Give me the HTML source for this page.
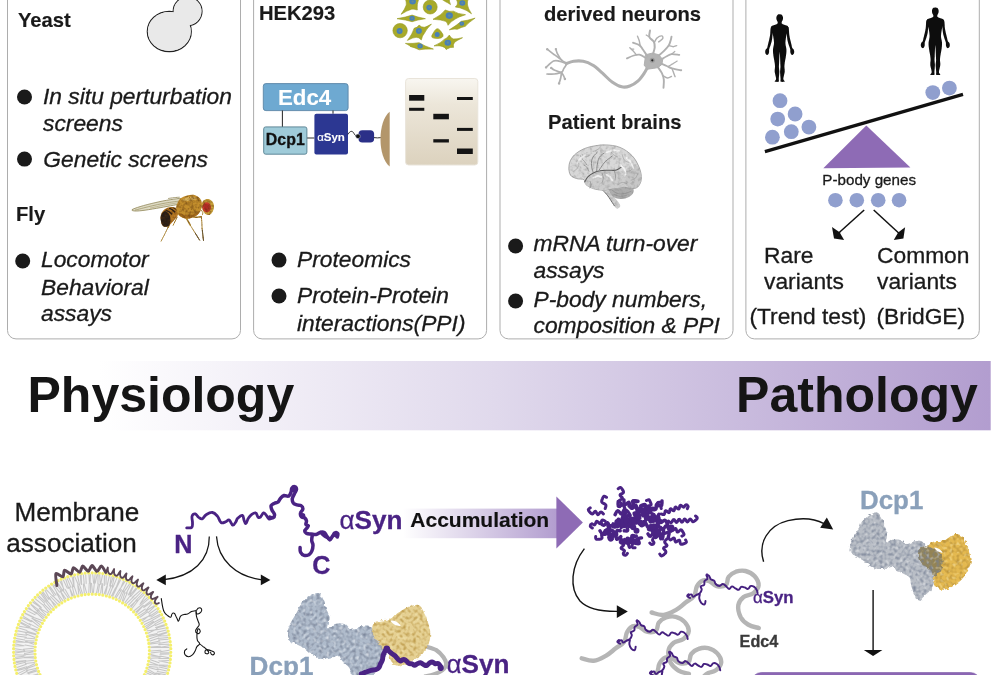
<!DOCTYPE html>
<html lang="en">
<head>
<meta charset="utf-8">
<title>Graphical abstract: P-body, alpha-synuclein, physiology to pathology</title>
<style>
html,body{margin:0;padding:0;background:#fff;}
body{width:996px;height:675px;overflow:hidden;position:relative;font-family:"Liberation Sans",Arial,Helvetica,sans-serif;}
svg{position:absolute;left:0;top:0;display:block;filter:blur(0.3px);}
text{font-family:"Liberation Sans",Arial,Helvetica,sans-serif;fill:#1a1a1a;stroke:#1a1a1a;stroke-width:0.3px;}
.b{font-weight:bold;}
.i{font-style:italic;}
.lab{font-size:20.2px;font-weight:bold;stroke-width:0.15px;}
.it{font-size:22.8px;font-style:italic;}
.rg{font-size:22.8px;}
.pur{fill:#4a2384;stroke:#4a2384;}
</style>
</head>
<body>
<svg width="996" height="675" viewBox="0 0 996 675">
<defs>
  <linearGradient id="gBanner" x1="0" y1="0" x2="1" y2="0">
    <stop offset="0" stop-color="#ffffff"/>
    <stop offset="0.1" stop-color="#ffffff"/>
    <stop offset="0.5" stop-color="#e0d9ec"/>
    <stop offset="1" stop-color="#b29dcf"/>
  </linearGradient>
  <linearGradient id="gAcc" x1="0" y1="0" x2="1" y2="0">
    <stop offset="0" stop-color="#ffffff"/>
    <stop offset="1" stop-color="#b29dcf"/>
  </linearGradient>
  <linearGradient id="gGel" x1="0" y1="0" x2="0" y2="1">
    <stop offset="0" stop-color="#f8f6f0"/>
    <stop offset="0.3" stop-color="#ece6d9"/>
    <stop offset="1" stop-color="#dcd2be"/>
  </linearGradient>
  <filter id="soft" x="-5%" y="-5%" width="110%" height="110%">
    <feGaussianBlur stdDeviation="0.45"/>
  </filter>
  <filter id="soft2" x="-5%" y="-5%" width="110%" height="110%">
    <feGaussianBlur stdDeviation="0.3"/>
  </filter>
  <filter id="flytex" x="-5%" y="-5%" width="110%" height="110%" color-interpolation-filters="sRGB">
    <feTurbulence type="fractalNoise" baseFrequency="0.35" numOctaves="2" seed="7" result="n"/>
    <feColorMatrix in="n" type="matrix" values="0 0 0 0 0.35  0 0 0 0 0.2  0 0 0 0 0.05  1.3 0 0 0 -0.5" result="dark"/>
    <feComposite in="dark" in2="SourceGraphic" operator="in" result="d2"/>
    <feMerge result="m"><feMergeNode in="SourceGraphic"/><feMergeNode in="d2"/></feMerge>
    <feGaussianBlur in="m" stdDeviation="0.45"/>
  </filter>
  <filter id="braintex" x="-5%" y="-5%" width="110%" height="110%" color-interpolation-filters="sRGB">
    <feTurbulence type="fractalNoise" baseFrequency="0.28" numOctaves="2" seed="3" result="n"/>
    <feColorMatrix in="n" type="matrix" values="0 0 0 0 0.5  0 0 0 0 0.5  0 0 0 0 0.5  1.1 0 0 0 -0.5" result="dark"/>
    <feComposite in="dark" in2="SourceGraphic" operator="in" result="d2"/>
    <feMerge result="m"><feMergeNode in="SourceGraphic"/><feMergeNode in="d2"/></feMerge>
    <feGaussianBlur in="m" stdDeviation="0.4"/>
  </filter>
  <filter id="blobtexB" x="-8%" y="-8%" width="116%" height="116%" color-interpolation-filters="sRGB">
    <feTurbulence type="fractalNoise" baseFrequency="0.3" numOctaves="1" seed="11" result="n"/>
    <feDisplacementMap in="SourceGraphic" in2="n" scale="4" xChannelSelector="R" yChannelSelector="G" result="disp"/>
    <feColorMatrix in="n" type="matrix" values="0 0 0 0 0.46  0 0 0 0 0.5  0 0 0 0 0.58  0 2.2 0 0 -0.95" result="dark"/>
    <feComposite in="dark" in2="disp" operator="in" result="d2"/>
    <feColorMatrix in="n" type="matrix" values="0 0 0 0 1  0 0 0 0 1  0 0 0 0 1  0 0 1.6 0 -0.85" result="light"/>
    <feComposite in="light" in2="disp" operator="in" result="l2"/>
    <feMerge result="m"><feMergeNode in="disp"/><feMergeNode in="d2"/><feMergeNode in="l2"/></feMerge>
    <feGaussianBlur in="m" stdDeviation="0.35"/>
  </filter>
  <filter id="blobtexY" x="-8%" y="-8%" width="116%" height="116%" color-interpolation-filters="sRGB">
    <feTurbulence type="fractalNoise" baseFrequency="0.3" numOctaves="1" seed="23" result="n"/>
    <feDisplacementMap in="SourceGraphic" in2="n" scale="4" xChannelSelector="R" yChannelSelector="G" result="disp"/>
    <feColorMatrix in="n" type="matrix" values="0 0 0 0 0.7  0 0 0 0 0.55  0 0 0 0 0.22  0 2.2 0 0 -0.95" result="dark"/>
    <feComposite in="dark" in2="disp" operator="in" result="d2"/>
    <feColorMatrix in="n" type="matrix" values="0 0 0 0 1  0 0 0 0 0.97  0 0 0 0 0.8  0 0 1.6 0 -0.85" result="light"/>
    <feComposite in="light" in2="disp" operator="in" result="l2"/>
    <feMerge result="m"><feMergeNode in="disp"/><feMergeNode in="d2"/><feMergeNode in="l2"/></feMerge>
    <feGaussianBlur in="m" stdDeviation="0.35"/>
  </filter>
</defs>
<g id="panels" fill="#fff" stroke="#adadad" stroke-width="1">
  <rect x="7.5" y="-20" width="233" height="358.9" rx="8.5" ry="8.5"/>
  <rect x="253.6" y="-20" width="233" height="358.9" rx="8.5" ry="8.5"/>
  <rect x="500" y="-20" width="233" height="358.9" rx="8.5" ry="8.5"/>
  <rect x="745.9" y="-20" width="233.4" height="358.9" rx="8.5" ry="8.5"/>
</g>
<g id="panel1">
  <text class="lab" x="18" y="27.2">Yeast</text>
  <g id="yeast">
    <circle cx="187.6" cy="11.3" r="14.4" fill="#e9e9e9" stroke="#222" stroke-width="1.2"/>
    <ellipse cx="169.3" cy="31.5" rx="22" ry="20.1" fill="#e9e9e9" stroke="#222" stroke-width="1.2"/>
    <circle cx="187.6" cy="11.3" r="13.9" fill="#e9e9e9"/>
    <ellipse cx="169.3" cy="31.5" rx="21.5" ry="19.6" fill="#e9e9e9"/>
  </g>
  <circle cx="24.5" cy="97" r="7.5" fill="#1a1a1a"/>
  <text class="it" x="43" y="103.7">In situ perturbation</text>
  <text class="it" x="43" y="131.3">screens</text>
  <circle cx="24.5" cy="159.1" r="7.5" fill="#1a1a1a"/>
  <text class="it" x="43.3" y="167.1">Genetic screens</text>
  <text class="lab" x="16" y="221">Fly</text>
  <g id="fly">
<g filter="url(#soft)">
<path d="M132.0 209.7C132.9 209.0 136.2 207.8 140.1 206.6C143.9 205.4 150.1 203.8 155.1 202.7C160.1 201.5 165.7 200.4 170.2 199.7C174.6 199.0 179.6 198.2 181.7 198.5C183.8 198.7 182.8 200.2 182.7 201.1C182.6 201.9 182.8 203.0 181.2 203.7C179.6 204.4 176.7 204.6 173.2 205.3C169.7 206.0 164.8 206.9 160.1 207.7C155.5 208.5 149.3 209.6 145.1 210.2C140.9 210.8 137.2 211.1 135.0 211.0C132.9 210.9 131.2 210.4 132.0 209.7Z" fill="#dedac4" stroke="#8f8556" stroke-width="0.8"/>
<path d="M135.0 210.1C137.6 209.5 145.1 207.5 150.1 206.3C155.1 205.1 160.0 204.0 165.2 203.1C170.3 202.2 178.5 201.2 181.2 200.9" fill="none" stroke="#9a9062" stroke-width="0.7"/>
<path d="M150.1 208.1C152.6 207.6 160.3 205.8 165.2 204.9C170.0 204.0 176.9 203.0 179.2 202.7" fill="none" stroke="#a79e72" stroke-width="0.6"/>
<path d="M168.2 198.5C169.2 198.3 172.3 197.9 174.2 197.7C176.1 197.4 178.8 197.3 179.7 197.2" fill="none" stroke="#9a9062" stroke-width="0.9"/>
</g>
<g filter="url(#flytex)">
<g stroke="#b08830" fill="none" stroke-linecap="round" stroke-linejoin="round">
<path stroke-width="1.5" d="M172.2 217.6C171.9 218.4 170.9 220.6 170.2 222.1C169.5 223.7 168.5 226.3 168.2 227.2"/>
<path stroke-width="0.9" d="M168.2 227.2C167.6 228.3 165.8 231.9 164.7 234.2C163.5 236.5 161.7 240.1 161.1 241.2"/>
<path stroke-width="1.0" d="M177.2 217.1C176.9 217.8 175.9 219.8 175.2 221.1C174.5 222.5 173.5 224.5 173.2 225.2"/>
<path stroke-width="1.5" d="M186.0 217.9C186.4 218.6 187.6 220.4 188.3 221.6C189.0 222.9 189.9 224.6 190.3 225.2"/>
<path stroke-width="0.9" d="M190.3 225.2C191.1 226.5 193.7 230.7 195.3 233.2C196.8 235.7 198.8 238.9 199.5 240.0"/>
<path stroke-width="1.5" d="M193.3 216.9C193.9 217.0 196.0 217.4 197.3 217.3C198.6 217.3 200.6 216.8 201.3 216.7"/>
<path stroke-width="1.0" d="M201.3 216.7C201.4 217.8 201.8 221.2 201.9 223.2C202.0 225.1 202.1 227.3 202.1 228.2"/>
<path stroke-width="0.9" d="M202.1 228.2C202.2 229.3 202.6 232.7 202.8 234.7C203.0 236.7 203.4 239.5 203.5 240.4"/>
</g>
<g stroke="#5e5034" fill="none" stroke-linecap="round"><path stroke-width="0.9" d="M195.3 233.2C196.0 234.3 198.8 238.9 199.5 240.0"/><path stroke-width="0.9" d="M202.3 230.2C202.5 231.9 203.3 238.7 203.5 240.4"/></g>
<path d="M160.6 218.1C160.6 216.3 160.9 214.6 161.6 213.1C162.4 211.6 163.7 210.1 165.2 209.1C166.6 208.1 168.5 207.3 170.2 207.1C171.9 206.8 173.8 206.9 175.2 207.6C176.6 208.3 178.0 209.7 178.4 211.1C178.8 212.5 178.2 214.5 177.4 216.1C176.6 217.8 174.7 219.6 173.4 221.1C172.1 222.7 170.7 224.2 169.4 225.2C168.0 226.1 166.4 226.9 165.2 226.8C163.9 226.6 162.7 225.8 161.9 224.4C161.2 222.9 160.7 220.0 160.6 218.1Z" fill="#b87a24"/>
<path d="M160.6 218.1C160.6 216.3 161.2 214.8 161.9 213.6C162.7 212.4 163.8 210.9 165.0 210.9C166.1 210.9 167.8 212.3 168.7 213.6C169.6 214.9 170.3 216.7 170.4 218.6C170.5 220.6 170.2 223.8 169.4 225.2C168.5 226.5 166.4 226.9 165.2 226.8C163.9 226.6 162.7 225.8 161.9 224.4C161.2 222.9 160.6 219.9 160.6 218.1Z" fill="#2a1e16"/>
<path d="M165.7 210.1C166.2 210.4 168.1 211.2 169.2 211.9C170.3 212.6 171.7 213.9 172.2 214.3" fill="none" stroke="#2a1e16" stroke-width="1.5"/>
<path d="M169.2 208.3C169.7 208.6 171.4 209.2 172.4 209.9C173.4 210.6 174.7 211.9 175.2 212.3" fill="none" stroke="#2a1e16" stroke-width="1.4"/>
<path d="M172.7 207.6C173.1 207.8 174.4 208.3 175.2 208.9C176.0 209.4 177.0 210.6 177.4 210.9" fill="none" stroke="#3a2a1a" stroke-width="1.0"/>
<path d="M178.0 202.1C178.8 200.5 179.7 199.1 181.2 198.1C182.8 197.0 185.1 196.0 187.2 195.5C189.4 195.0 192.2 194.6 194.3 195.0C196.3 195.5 198.2 196.7 199.5 198.1C200.8 199.4 201.6 201.2 201.9 203.1C202.2 204.9 201.9 207.3 201.3 209.1C200.7 210.9 199.6 212.8 198.3 214.1C197.0 215.5 195.1 216.4 193.3 217.1C191.4 217.9 189.3 218.7 187.2 218.7C185.2 218.7 182.9 218.0 181.2 217.1C179.6 216.2 178.2 215.0 177.4 213.3C176.6 211.7 176.1 209.2 176.2 207.3C176.3 205.4 177.2 203.6 178.0 202.1Z" fill="#c38e2c"/>
<path d="M182.2 200.1C182.2 199.4 185.4 197.8 187.2 197.2C189.1 196.7 191.6 196.5 193.3 196.8C194.9 197.1 197.3 198.5 197.3 199.1C197.3 199.6 194.9 199.7 193.3 200.1C191.6 200.4 189.1 201.1 187.2 201.1C185.4 201.1 182.2 200.7 182.2 200.1Z" fill="#d8b25a"/>
<path d="M179.2 213.1C180.0 212.9 182.9 214.9 185.2 215.1C187.6 215.4 190.9 215.3 193.3 214.6C195.6 213.9 198.6 211.0 199.3 211.1C200.0 211.2 198.6 214.0 197.3 215.1C196.0 216.3 193.3 217.4 191.3 217.9C189.3 218.5 187.0 218.6 185.2 218.3C183.5 218.1 181.7 217.2 180.7 216.3C179.7 215.5 178.5 213.3 179.2 213.1Z" fill="#a56c1c"/>
<path d="M189.3 197.0C189.8 198.1 191.9 200.9 192.3 203.1C192.6 205.2 191.4 208.9 191.3 210.1" fill="none" stroke="#9a6a20" stroke-width="0.9"/>
<path d="M202.1 203.1C202.5 201.9 203.3 200.7 204.3 200.1C205.4 199.4 207.0 198.8 208.3 199.1C209.7 199.3 211.4 200.4 212.3 201.6C213.3 202.7 213.9 204.5 214.0 206.1C214.1 207.7 213.6 209.7 213.0 211.1C212.3 212.5 211.1 214.2 209.9 214.7C208.8 215.3 207.0 214.9 205.9 214.3C204.8 213.7 204.0 212.5 203.3 211.3C202.6 210.1 202.1 208.7 201.9 207.3C201.7 205.9 201.7 204.3 202.1 203.1Z" fill="#c9a03a"/>
<ellipse cx="206.7" cy="207.3" rx="4.3" ry="5.1" fill="#c5382c"/>
<ellipse cx="206.5" cy="207.1" rx="2.4" ry="3" fill="#ae2a24"/>
<path d="M201.3 210.1C201.6 210.5 202.6 211.8 202.8 212.6C203.0 213.4 202.4 214.7 202.3 215.1" fill="none" stroke="#a8842c" stroke-width="0.8"/>
</g>
</g>
  <circle cx="22.7" cy="261" r="7.5" fill="#1a1a1a"/>
  <text class="it" x="41" y="267">Locomotor</text>
  <text class="it" x="41" y="294.5">Behavioral</text>
  <text class="it" x="41" y="320.5">assays</text>
</g>
<g id="panel2">
  <text class="lab" x="259" y="20.4">HEK293</text>
  <rect x="263.3" y="83.6" width="84.8" height="27" rx="2.6" fill="#6ea9d1" stroke="#5b86a6" stroke-width="0.9"/>
  <text x="304.6" y="105.2" text-anchor="middle" style="font-size:22.3px;font-weight:bold;fill:#fff;stroke:#fff;stroke-width:0.1px">Edc4</text>
  <g stroke="#2e2e2e" stroke-width="1.05" fill="none">
    <path d="M282.4 110.6V126.9M333 110.6V113.8M306.9 138H314.4"/>
  </g>
  <rect x="263.7" y="126.9" width="43.2" height="27.3" rx="2" fill="#9fcbd9" stroke="#557f90" stroke-width="0.9"/>
  <text x="285.3" y="144.9" text-anchor="middle" style="font-size:15.9px;font-weight:bold;fill:#111;stroke:#111">Dcp1</text>
  <rect x="314.4" y="113.7" width="33.6" height="40.8" rx="2" fill="#2c3792"/>
  <text x="331" y="140.6" text-anchor="middle" style="font-size:11.5px;font-weight:bold;fill:#fff;stroke:#fff;stroke-width:0.1px"><tspan style="font-weight:normal">α</tspan>Syn</text>
  <path d="M348 134.4 C 350 130.5, 352.5 130.5, 354 133.5 C 355 135.6, 356.5 136.4, 358 136.3" stroke="#1a1a1a" stroke-width="0.9" fill="none"/>
  <rect x="358.5" y="130.2" width="15.6" height="12.4" rx="3.8" fill="#2b3088"/>
  <circle cx="358" cy="136.3" r="2.3" fill="#111" stroke="#c8cce0" stroke-width="0.5"/>
  <path d="M374 137.6 q3.4 0.6 6.9 0" stroke="#1a1a1a" stroke-width="0.9" fill="none"/>
  <path d="M389.7 111.8 C 377.4 121.5, 377.4 157, 389.7 166.6 Z" fill="#b3966b"/>
  <rect x="405.6" y="78.5" width="72.2" height="86.5" rx="3" fill="url(#gGel)" stroke="#e9e4da" stroke-width="1"/>
  <g fill="#141414">
    <rect x="409.1" y="95" width="15.2" height="5.7"/>
    <rect x="409.1" y="107.8" width="15.2" height="3"/>
    <rect x="433.3" y="113.8" width="15.6" height="5.5"/>
    <rect x="457" y="97" width="15.8" height="3"/>
    <rect x="457" y="127.9" width="15.8" height="3"/>
    <rect x="433.3" y="139.2" width="15.6" height="3.3"/>
    <rect x="457" y="148.5" width="15.8" height="5.5"/>
  </g>
  <circle cx="279" cy="260.1" r="7.5" fill="#1a1a1a"/>
  <text class="it" x="297" y="267">Proteomics</text>
  <circle cx="279" cy="296" r="7.5" fill="#1a1a1a"/>
  <text class="it" x="297" y="303">Protein-Protein</text>
  <text class="it" x="297" y="330.5">interactions(PPI)</text>
</g>
<g id="cells" filter="url(#soft2)">
<g fill="#a8aa2a" stroke="#96981f" stroke-width="0.6" stroke-linejoin="round">
<circle cx="430.2" cy="7.0" r="7.0"/>
<circle cx="400.1" cy="30.6" r="7.2"/>
<path d="M431.9 37.1Q431.0 36.3 433.5 32.6L434.7 30.7Q437.2 26.9 439.9 30.2L441.2 31.8Q443.9 35.1 442.9 36.4L442.4 37.1Q441.4 38.4 438.1 38.4L436.5 38.4Q433.2 38.4 432.3 37.6Z"/>
<path d="M405.1 -2.0Q411.7 -0.3 419.1 -2.0Q416.4 4.4 417.3 10.0Q413.5 8.8 411.6 9.2Q407.2 10.4 401.1 14.3Q405.1 8.8 406.3 5.0Q406.7 2.4 405.1 -2.0Z"/>
<path d="M439.2 -2.0Q444.6 -1.5 449.3 -2.0Q449.0 1.1 450.5 4.6Q447.5 2.5 445.2 1.5Q443.1 -0.1 439.2 -2.0Z"/>
<path d="M455.3 -2.0Q462.1 -0.5 468.5 -2.0Q466.9 2.2 467.5 5.0Q468.0 8.4 471.5 13.8Q466.5 10.0 463.5 9.2Q460.1 7.4 455.3 7.0Q457.8 5.0 457.5 3.0Q457.8 1.5 455.3 -2.0Z"/>
<path d="M397.0 18.7Q406.1 17.2 412.1 15.1Q417.2 17.2 425.4 18.7Q417.2 19.8 412.1 21.7Q406.1 19.8 397.0 18.7Z"/>
<path d="M433.0 19.3Q441.4 15.2 445.2 10.0Q449.4 12.1 453.5 11.2Q457.3 13.9 465.5 14.7Q458.0 17.0 455.3 19.1Q451.2 21.1 448.1 25.3Q447.3 22.0 445.4 21.3Q441.5 19.6 433.0 19.3Z"/>
<path d="M449.3 29.8Q456.7 25.4 461.3 21.3Q466.7 20.8 475.1 18.1Q468.3 22.8 465.3 26.3Q461.4 27.2 457.3 29.3Q455.1 28.6 449.3 29.8Z"/>
<path d="M407.4 40.4Q412.7 33.8 414.1 28.3Q417.3 27.9 419.1 25.1Q421.3 27.5 424.4 27.3Q426.1 27.1 431.4 24.1Q426.1 29.4 424.4 33.3Q422.2 35.6 421.3 39.9Q419.0 37.1 416.1 37.3Q413.5 37.3 407.4 40.4Z"/>
<path d="M405.4 43.4Q413.4 43.7 419.1 42.7Q424.3 46.0 433.4 49.1Q424.3 48.7 419.1 49.8Q415.2 47.7 410.1 46.4Q409.9 45.2 405.4 43.4Z"/>
<path d="M434.0 45.9Q441.2 42.7 444.2 39.4Q447.2 38.5 449.3 35.1Q450.8 38.4 453.5 38.9Q456.0 39.3 462.5 37.7Q456.3 40.7 454.5 42.4Q452.8 44.5 453.5 47.4Q450.0 47.0 447.2 48.9Q447.3 47.9 446.4 49.7Q445.3 47.0 442.2 46.4Q440.4 45.5 434.0 45.9Z"/>
</g>
<g fill="#4a80b6">
<circle cx="429.2" cy="7.6" r="2.8"/>
<circle cx="399.6" cy="31.1" r="3.0"/>
<circle cx="437.2" cy="34.6" r="2.5"/>
<ellipse cx="412.6" cy="1.5" rx="3.3" ry="3.0"/>
<ellipse cx="462.3" cy="3.0" rx="3.0" ry="2.8"/>
<ellipse cx="412.1" cy="18.2" rx="2.7" ry="2.5"/>
<ellipse cx="449.3" cy="15.6" rx="3.6" ry="3.3"/>
<ellipse cx="461.8" cy="23.6" rx="2.4" ry="2.2"/>
<ellipse cx="418.9" cy="30.9" rx="3.0" ry="2.8"/>
<ellipse cx="420.1" cy="45.9" rx="2.7" ry="2.5"/>
<ellipse cx="447.8" cy="42.7" rx="3.3" ry="3.0"/>
</g>
<g fill="#7e9a78" opacity="0.55">
<circle cx="429.2" cy="7.6" r="1.0"/>
<circle cx="399.6" cy="31.1" r="1.1"/>
<circle cx="412.6" cy="1.5" r="1.1"/>
<circle cx="462.3" cy="3.0" r="1.0"/>
<circle cx="412.1" cy="18.2" r="0.9"/>
<circle cx="449.3" cy="15.6" r="1.2"/>
<circle cx="461.8" cy="23.6" r="0.8"/>
<circle cx="418.9" cy="30.9" r="1.0"/>
<circle cx="420.1" cy="45.9" r="0.9"/>
<circle cx="447.8" cy="42.7" r="1.1"/>
</g>
</g>
<g id="panel3">
  <text class="lab" x="544" y="20.6">derived neurons</text>
  <text class="lab" x="548" y="129">Patient brains</text>
  <circle cx="515.6" cy="246" r="7.5" fill="#1a1a1a"/>
  <text class="it" x="533.5" y="251.4">mRNA turn-over</text>
  <text class="it" x="533.5" y="277.8">assays</text>
  <circle cx="515.6" cy="301" r="7.5" fill="#1a1a1a"/>
  <text class="it" x="533.5" y="306.6">P-body numbers,</text>
  <text class="it" x="533.5" y="332.9">composition &amp; PPI</text>
</g>
<g id="neuron" filter="url(#soft2)" fill="none" stroke="#b0b0b0" stroke-linecap="round" stroke-linejoin="round">
<path stroke-width="3.1" d="M566.3 63.6C567.5 63.2 570.7 61.7 573.6 61.3C576.4 60.9 580.0 60.7 583.2 61.3C586.4 61.9 589.6 63.2 592.8 65.2C596.0 67.1 599.3 70.4 602.5 73.2C605.7 76.0 608.9 79.8 612.1 82.0C615.3 84.3 618.8 86.2 621.7 86.8C624.7 87.5 627.1 87.0 629.8 86.0C632.5 85.1 635.4 83.4 637.8 81.2C640.2 79.1 642.5 75.7 644.2 73.2C646.0 70.6 647.0 68.0 648.3 66.0C649.5 64.0 650.9 61.9 651.5 61.1"/>
<path stroke-width="1.7" d="M567.1 63.2C566.2 62.7 563.1 61.6 561.5 60.0C559.9 58.5 558.4 55.7 557.5 53.9C556.6 52.1 556.2 50.2 555.9 49.4"/>
<path stroke-width="1.7" d="M561.5 60.0C560.3 59.1 556.6 56.5 554.3 54.7C551.9 53.0 548.7 50.3 547.5 49.4"/>
<path stroke-width="1.7" d="M566.3 63.6C565.1 63.2 561.2 61.5 559.1 61.1C557.0 60.7 555.6 60.1 553.5 61.1C551.3 62.2 547.4 66.2 546.2 67.2"/>
<path stroke-width="1.7" d="M567.1 63.6C566.6 64.4 564.9 66.9 563.9 68.4C563.0 69.8 563.1 72.1 561.5 72.4C559.9 72.7 556.0 70.7 554.3 70.0C552.6 69.3 551.9 68.4 551.4 68.1"/>
<path stroke-width="1.7" d="M561.5 72.4C560.3 72.7 556.7 73.7 554.3 74.0C551.9 74.3 548.3 74.0 547.0 74.0"/>
<path stroke-width="1.7" d="M561.5 72.4C561.4 73.3 561.1 76.2 560.7 78.0C560.3 79.8 559.4 82.3 559.1 83.2"/>
<path stroke-width="1.7" d="M562.0 73.2C562.3 73.7 563.5 75.5 563.9 76.4C564.4 77.3 564.6 78.4 564.7 78.8"/>
<circle cx="555.9" cy="49.1" r="1.2" fill="#b0b0b0" stroke="none"/>
<circle cx="547.2" cy="49.3" r="1.2" fill="#b0b0b0" stroke="none"/>
<circle cx="546.1" cy="67.4" r="1.2" fill="#b0b0b0" stroke="none"/>
<circle cx="551.2" cy="67.9" r="1.2" fill="#b0b0b0" stroke="none"/>
<circle cx="559.1" cy="83.5" r="1.2" fill="#b0b0b0" stroke="none"/>
<circle cx="564.9" cy="79.0" r="1.2" fill="#b0b0b0" stroke="none"/>
<path fill="#b4b4b4" stroke="#b0b0b0" stroke-width="1" d="M645.8 54.7 L652.3 53.1 L658.7 54.7 L662.7 59.5 L661.9 64.4 L657.9 67.6 L653.1 68.4 L647.4 69.2 L644.2 65.2 L645.0 59.5 Z"/>
<path stroke-width="1.9" d="M647.4 56.3C646.6 55.1 644.0 51.0 642.6 49.1C641.3 47.2 641.0 46.2 639.4 45.1C637.8 44.0 634.1 43.1 633.0 42.7"/>
<path stroke-width="1.4" d="M640.2 45.9C640.0 44.9 639.6 41.9 639.1 40.3C638.6 38.7 637.8 36.9 637.5 36.2"/>
<path stroke-width="1.8" d="M645.8 57.9C644.8 57.4 641.4 55.1 639.4 54.7C637.4 54.3 635.9 54.9 633.8 55.5C631.7 56.1 628.0 57.9 626.9 58.4"/>
<path stroke-width="1.4" d="M636.2 54.7C635.7 54.0 634.1 51.9 633.0 50.7C631.9 49.6 630.3 48.3 629.8 47.8"/>
<path stroke-width="1.2" d="M633.8 49.1L631.4 49.1"/>
<path stroke-width="2.0" d="M653.1 53.9C653.3 52.8 654.5 49.5 654.7 47.5C654.8 45.5 654.8 43.6 653.9 41.9C653.0 40.1 650.0 38.9 649.4 37.0C648.7 35.2 649.9 31.7 650.0 30.6"/>
<path stroke-width="1.4" d="M654.2 42.7C654.7 41.9 655.8 39.0 657.1 37.9C658.4 36.7 661.0 35.8 661.9 35.9C662.8 36.1 663.2 37.7 662.7 38.7C662.2 39.6 659.4 41.3 658.7 41.9"/>
<path stroke-width="1.2" d="M649.4 37.0L646.2 35.0"/>
<path stroke-width="1.9" d="M658.7 55.5C659.6 54.7 662.7 52.4 664.3 50.7C666.0 49.0 667.6 47.3 668.7 45.6C669.7 43.8 670.3 41.8 670.7 40.3C671.2 38.8 671.4 37.2 671.5 36.6"/>
<path stroke-width="1.4" d="M668.7 45.6C669.4 45.7 671.8 46.7 673.2 46.7C674.5 46.7 676.1 45.7 676.7 45.6"/>
<path stroke-width="1.8" d="M661.1 59.5C662.0 59.0 665.0 57.2 666.7 56.3C668.5 55.4 669.5 54.5 671.5 54.2C673.6 54.0 678.0 54.8 679.3 54.9"/>
<path stroke-width="1.2" d="M671.5 54.2L674.8 51.5"/>
<path stroke-width="1.9" d="M661.1 63.6C662.0 64.0 664.9 65.2 666.7 66.0C668.5 66.8 669.5 67.7 671.9 68.4C674.3 69.1 679.6 70.0 681.2 70.3"/>
<path stroke-width="1.4" d="M671.9 68.4C672.1 69.0 672.9 71.0 673.5 72.4C674.0 73.8 674.8 76.0 675.1 76.7"/>
<path stroke-width="1.2" d="M668.3 66.4C669.1 66.0 671.7 64.4 673.2 63.6C674.6 62.7 676.5 61.5 677.2 61.1"/>
<path stroke-width="1.9" d="M657.9 67.1C658.6 68.1 660.9 71.1 661.9 73.2C662.9 75.3 663.6 77.2 663.8 79.6C664.1 82.0 663.6 86.3 663.5 87.7"/>
<path stroke-width="1.4" d="M662.7 75.6C663.5 76.0 666.1 77.9 667.5 78.0C669.0 78.1 670.9 76.7 671.5 76.4"/>
<circle cx="652.3" cy="60.3" r="2.5" fill="#9a9a9a" stroke="none"/>
<circle cx="652.3" cy="60.3" r="1.1" fill="#222" stroke="none"/>
</g>
<g id="brain" filter="url(#braintex)">
<path fill="#cfcfcf" d="M603.9 190.2C604.1 189.3 607.6 188.9 609.4 190.2C611.3 191.5 613.2 195.6 615.0 198.0C616.8 200.4 619.3 203.0 620.0 204.7C620.7 206.3 619.7 207.2 619.1 207.8C618.5 208.4 617.6 209.2 616.4 208.3C615.3 207.4 613.9 204.5 612.4 202.4C611.0 200.4 609.4 197.8 608.0 195.8C606.6 193.7 603.6 191.1 603.9 190.2Z"/>
<path fill="#adadad" d="M610.0 186.9C612.1 185.8 618.5 184.7 622.2 184.7C625.9 184.7 630.4 185.6 632.2 186.9C634.1 188.2 633.9 190.8 633.3 192.4C632.8 194.1 630.9 195.8 628.9 196.9C626.9 198.0 623.7 198.9 621.1 198.9C618.5 198.9 615.3 198.1 613.3 196.9C611.4 195.6 610.0 193.0 609.4 191.3C608.9 189.7 607.9 188.0 610.0 186.9Z"/>
<path fill="#d8d8d8" stroke="#989898" stroke-width="0.8" d="M568.9 168.0C568.9 165.5 569.3 162.7 570.6 160.2C571.9 157.7 573.8 155.1 576.7 153.0C579.5 150.9 583.1 148.8 587.8 147.4C592.4 146.1 599.1 144.9 604.4 144.9C609.8 144.9 615.4 145.6 620.0 147.4C624.6 149.3 629.0 152.4 632.2 155.8C635.5 159.2 637.9 164.1 639.4 168.0C641.0 171.9 641.6 176.0 641.3 179.1C641.1 182.3 639.5 185.3 637.8 186.9C636.1 188.5 633.7 188.6 631.1 188.6C628.5 188.6 625.4 186.9 622.2 186.9C619.1 186.9 615.4 188.0 612.2 188.6C609.1 189.1 606.5 190.2 603.3 190.2C600.2 190.2 596.2 189.5 593.3 188.6C590.5 187.6 587.7 186.1 586.1 184.7C584.5 183.2 585.5 180.7 583.9 179.7C582.3 178.6 578.9 179.3 576.7 178.6C574.4 177.8 571.9 177.0 570.6 175.2C569.3 173.5 568.9 170.5 568.9 168.0Z"/>
<path fill="#cdcdcd" d="M585.0 180.8C585.9 178.9 589.4 175.7 592.2 174.1C595.1 172.5 598.5 171.9 602.2 171.3C605.9 170.8 611.1 170.2 614.4 170.8C617.8 171.3 620.2 172.7 622.2 174.7C624.3 176.6 626.7 180.4 626.7 182.4C626.7 184.5 624.6 185.9 622.2 186.9C619.8 187.9 615.4 188.0 612.2 188.6C609.1 189.1 606.5 190.2 603.3 190.2C600.2 190.2 596.1 189.4 593.3 188.6C590.6 187.7 588.1 186.5 586.7 185.2C585.3 183.9 584.1 182.6 585.0 180.8Z"/>
<path fill="#c2c2c2" opacity="0.75" d="M626.7 169.1C628.5 166.7 634.3 164.9 636.7 165.8C639.1 166.7 640.5 171.9 641.1 174.7C641.8 177.4 641.3 180.4 640.6 182.4C639.8 184.5 638.6 186.0 636.7 186.9C634.7 187.8 630.7 189.1 628.9 188.0C627.0 186.9 625.9 183.4 625.6 180.2C625.2 177.1 624.8 171.5 626.7 169.1Z"/>
<path fill="none" stroke="#5a5a5a" stroke-width="1.1" stroke-linecap="round" d="M584.7 181.9C585.2 181.1 586.3 178.4 587.8 176.9C589.2 175.4 591.3 174.0 593.3 173.0C595.4 172.0 597.6 171.2 600.0 170.8C602.4 170.3 605.2 170.3 607.8 170.2C610.4 170.1 613.5 170.6 615.6 170.2C617.6 169.9 618.8 168.6 620.0 168.0C621.2 167.4 622.3 166.6 622.8 166.3"/>
<path fill="none" stroke="#777" stroke-width="0.8" stroke-linecap="round" d="M593.3 172.7C593.1 171.7 591.9 169.0 591.7 166.9C591.4 164.8 591.3 162.1 591.7 160.2C592.0 158.4 593.0 157.1 593.9 155.8C594.8 154.5 596.7 153.0 597.2 152.4"/>
<path fill="none" stroke="#777" stroke-width="0.8" stroke-linecap="round" d="M596.7 170.8C596.8 169.9 596.9 167.1 597.2 165.2C597.5 163.4 597.8 161.2 598.3 159.7C598.9 158.1 599.6 156.8 600.6 155.8C601.5 154.7 603.3 153.7 603.9 153.3"/>
<path fill="none" stroke="#777" stroke-width="0.8" stroke-linecap="round" d="M599.4 169.7C600.0 168.8 601.8 166.1 602.8 164.7C603.8 163.3 604.5 162.4 605.6 161.3C606.6 160.3 607.8 159.4 608.9 158.6C610.0 157.7 611.7 156.4 612.2 156.0"/>
<path fill="none" stroke="#8a8a8a" stroke-width="0.7" stroke-linecap="round" d="M586.7 164.7C586.3 164.1 585.2 162.3 584.4 161.3C583.7 160.4 582.9 160.0 582.2 159.1C581.6 158.2 580.8 156.3 580.6 155.8"/>
<path fill="none" stroke="#8a8a8a" stroke-width="0.7" stroke-linecap="round" d="M588.9 171.3C588.5 170.6 587.5 167.9 586.7 166.9C585.8 165.9 584.4 165.5 583.9 165.2"/>
<path fill="none" stroke="#8a8a8a" stroke-width="0.7" stroke-linecap="round" d="M590.0 181.3C590.2 181.9 591.1 183.6 591.1 184.7C591.1 185.8 590.2 187.4 590.0 188.0"/>
<path fill="none" stroke="#8a8a8a" stroke-width="0.7" stroke-linecap="round" d="M602.2 173.6C602.4 174.3 603.3 176.5 603.3 178.0C603.3 179.5 602.4 181.7 602.2 182.4"/>
<path fill="none" stroke="#8a8a8a" stroke-width="0.7" stroke-linecap="round" d="M614.4 171.3C614.6 172.1 615.5 174.3 615.6 175.8C615.6 177.3 615.1 179.5 615.0 180.2"/>
<path fill="none" stroke="#999" stroke-width="0.6" stroke-linecap="round" d="M573.3 171.3C573.9 171.0 575.7 170.2 576.7 169.1C577.6 168.0 578.7 166.1 578.9 164.7C579.1 163.2 578.0 161.0 577.8 160.2"/>
<path fill="none" stroke="#999" stroke-width="0.6" stroke-linecap="round" d="M610.0 150.2C610.6 151.0 612.0 153.6 613.3 154.7C614.6 155.8 617.0 156.5 617.8 156.9"/>
<path fill="none" stroke="#999" stroke-width="0.6" stroke-linecap="round" d="M622.2 154.7C622.6 155.6 623.3 158.9 624.4 160.2C625.6 161.5 628.1 162.1 628.9 162.4"/>
<path fill="none" stroke="#999" stroke-width="0.6" stroke-linecap="round" d="M626.7 171.3C627.4 171.1 630.0 171.1 631.1 170.2C632.2 169.3 633.0 166.5 633.3 165.8"/>
<path fill="none" stroke="#999" stroke-width="0.6" stroke-linecap="round" d="M631.1 180.2C631.9 179.9 634.4 179.1 635.6 178.0C636.7 176.9 637.4 174.3 637.8 173.6"/>
<path fill="none" stroke="#999" stroke-width="0.6" stroke-linecap="round" d="M617.8 184.7C618.5 184.3 620.7 182.6 622.2 182.4C623.7 182.3 625.9 183.4 626.7 183.6"/>
<path fill="none" stroke="#999" stroke-width="0.6" stroke-linecap="round" d="M593.3 151.3C593.9 151.1 595.6 150.9 596.7 150.2C597.8 149.6 599.4 147.9 600.0 147.4"/>
<path fill="none" stroke="#999" stroke-width="0.6" stroke-linecap="round" d="M582.2 154.7C582.8 155.0 584.4 156.7 585.6 156.9C586.7 157.1 588.3 156.0 588.9 155.8"/>
<path fill="none" stroke="#555" stroke-width="0.9" stroke-linecap="round" d="M603.3 190.8C604.1 191.6 606.3 193.8 607.8 195.8C609.3 197.7 611.1 200.8 612.2 202.4C613.3 204.1 614.1 205.2 614.4 205.8"/>
<path fill="none" stroke="#8a8a8a" stroke-width="0.6" stroke-linecap="round" d="M612.2 190.2C613.1 190.8 615.7 193.0 617.8 193.6C619.8 194.1 622.2 193.9 624.4 193.6C626.7 193.2 630.0 191.7 631.1 191.3"/>
<path fill="none" stroke="#8a8a8a" stroke-width="0.6" stroke-linecap="round" d="M614.4 194.7C615.4 194.9 618.0 196.2 620.0 196.3C622.0 196.4 625.6 195.4 626.7 195.2"/>
<path fill="none" stroke="#f2f2f2" stroke-width="1.8" stroke-linecap="round" d="M576.7 163.6C577.4 162.6 579.3 159.7 581.1 158.0C583.0 156.3 586.7 154.3 587.8 153.6"/>
<path fill="none" stroke="#f2f2f2" stroke-width="1.8" stroke-linecap="round" d="M606.7 152.4C607.8 152.1 611.1 150.4 613.3 150.2C615.6 150.0 618.9 151.1 620.0 151.3"/>
<path fill="none" stroke="#f2f2f2" stroke-width="1.8" stroke-linecap="round" d="M620.0 164.7C620.7 165.4 623.5 167.4 624.4 169.1C625.4 170.8 625.4 173.7 625.6 174.7"/>
<path fill="none" stroke="#f2f2f2" stroke-width="1.8" stroke-linecap="round" d="M593.3 178.0C594.1 177.6 596.5 176.0 597.8 175.8C599.1 175.6 600.6 176.7 601.1 176.9"/>
<path fill="none" stroke="#f2f2f2" stroke-width="1.8" stroke-linecap="round" d="M606.7 174.7C607.2 175.0 609.1 176.0 610.0 176.9C610.9 177.8 611.9 179.7 612.2 180.2"/>
<path fill="none" stroke="#f2f2f2" stroke-width="1.8" stroke-linecap="round" d="M626.7 158.0C627.4 158.7 630.0 160.8 631.1 162.4C632.2 164.1 633.0 167.1 633.3 168.0"/>
</g>
<g id="panel4">
  <path d="M764.9 151.6 L963 94.4" stroke="#111" stroke-width="3.2"/>
  <path d="M866.3 125.4 L910.4 167.4 L823.3 168.3 Z" fill="#8e6bb5"/>
  <g fill="#909fce">
    <circle cx="780" cy="100.7" r="7.4"/>
    <circle cx="795.1" cy="114" r="7.4"/>
    <circle cx="777.7" cy="119.1" r="7.4"/>
    <circle cx="808.9" cy="127.1" r="7.4"/>
    <circle cx="791.3" cy="131.7" r="7.4"/>
    <circle cx="772.4" cy="137.2" r="7.4"/>
    <circle cx="932.8" cy="92.6" r="7.4"/>
    <circle cx="949.4" cy="88.1" r="7.4"/>
    <circle cx="835.4" cy="200.2" r="7.3"/>
    <circle cx="856.8" cy="200.2" r="7.3"/>
    <circle cx="878.2" cy="200.2" r="7.3"/>
    <circle cx="899.1" cy="200.2" r="7.3"/>
  </g>
  <text x="822.3" y="185.3" style="font-size:15.2px">P-body genes</text>
  <g stroke="#111" stroke-width="1.5" fill="none">
    <path d="M864.2 210 L838.4 233.3"/>
    <path d="M873.7 210 L899.5 233.8"/>
  </g>
  <path d="M832 227.1 L839.6 232.2 L844.1 240 L834 238.5 Z" fill="#111"/>
  <path d="M905.1 227.3 L898.1 232.6 L893.8 240 L903.4 238.5 Z" fill="#111"/>
  <text class="rg" x="764" y="262.6">Rare</text>
  <text class="rg" x="764" y="288.9">variants</text>
  <text class="rg" x="749.4" y="323.6">(Trend test)</text>
  <text class="rg" x="877" y="262.6">Common</text>
  <text class="rg" x="877" y="288.9">variants</text>
  <text class="rg" x="876.5" y="323.6">(BridGE)</text>
</g>
<g id="humans" fill="#0a0a0a">
  <defs>
    <g id="man"><path d="M0.00 -3.80C0.37 -3.70 1.65 -3.70 2.20 -3.20C2.75 -2.70 3.15 -1.60 3.30 -0.80C3.45 0.00 3.28 0.90 3.10 1.60C2.92 2.30 2.37 2.77 2.20 3.40C2.03 4.03 1.72 4.87 2.10 5.40C2.48 5.93 3.62 6.23 4.50 6.60C5.38 6.97 6.72 7.12 7.40 7.60C8.08 8.08 8.47 8.60 8.60 9.50C8.73 10.40 8.47 11.92 8.20 13.00C7.93 14.08 7.33 14.83 7.00 16.00C6.67 17.17 6.42 18.57 6.20 20.00C5.98 21.43 5.72 23.27 5.70 24.60C5.68 25.93 5.93 26.90 6.10 28.00C6.27 29.10 6.62 30.00 6.70 31.20C6.78 32.40 6.73 33.73 6.60 35.20C6.47 36.67 6.17 38.37 5.90 40.00C5.63 41.63 5.20 43.57 5.00 45.00C4.80 46.43 4.70 47.43 4.70 48.60C4.70 49.77 4.97 51.02 5.00 52.00C5.03 52.98 5.05 53.50 4.90 54.50C4.75 55.50 4.32 56.98 4.10 58.00C3.88 59.02 3.58 59.90 3.60 60.60C3.62 61.30 3.98 61.77 4.20 62.20C4.42 62.63 4.83 62.95 4.90 63.20C4.97 63.45 5.22 63.62 4.60 63.70C3.98 63.78 1.83 63.90 1.20 63.70C0.57 63.50 0.85 63.02 0.80 62.50C0.75 61.98 0.95 61.68 0.90 60.60C0.85 59.52 0.58 57.27 0.50 56.00C0.42 54.73 0.35 54.17 0.40 53.00C0.45 51.83 0.77 50.33 0.80 49.00C0.83 47.67 0.67 46.50 0.60 45.00C0.53 43.50 0.47 41.50 0.40 40.00C0.33 38.50 0.27 37.07 0.20 36.00C0.13 34.93 0.03 34.00 0.00 33.60C-0.03 34.00 -0.13 34.93 -0.20 36.00C-0.27 37.07 -0.33 38.50 -0.40 40.00C-0.47 41.50 -0.53 43.50 -0.60 45.00C-0.67 46.50 -0.83 47.67 -0.80 49.00C-0.77 50.33 -0.45 51.83 -0.40 53.00C-0.35 54.17 -0.42 54.73 -0.50 56.00C-0.58 57.27 -0.85 59.52 -0.90 60.60C-0.95 61.68 -0.75 61.98 -0.80 62.50C-0.85 63.02 -0.57 63.50 -1.20 63.70C-1.83 63.90 -3.98 63.78 -4.60 63.70C-5.22 63.62 -4.97 63.45 -4.90 63.20C-4.83 62.95 -4.42 62.63 -4.20 62.20C-3.98 61.77 -3.62 61.30 -3.60 60.60C-3.58 59.90 -3.88 59.02 -4.10 58.00C-4.32 56.98 -4.75 55.50 -4.90 54.50C-5.05 53.50 -5.03 52.98 -5.00 52.00C-4.97 51.02 -4.70 49.77 -4.70 48.60C-4.70 47.43 -4.80 46.43 -5.00 45.00C-5.20 43.57 -5.63 41.63 -5.90 40.00C-6.17 38.37 -6.47 36.67 -6.60 35.20C-6.73 33.73 -6.78 32.40 -6.70 31.20C-6.62 30.00 -6.27 29.10 -6.10 28.00C-5.93 26.90 -5.68 25.93 -5.70 24.60C-5.72 23.27 -5.98 21.43 -6.20 20.00C-6.42 18.57 -6.67 17.17 -7.00 16.00C-7.33 14.83 -7.93 14.08 -8.20 13.00C-8.47 11.92 -8.73 10.40 -8.60 9.50C-8.47 8.60 -8.08 8.08 -7.40 7.60C-6.72 7.12 -5.38 6.97 -4.50 6.60C-3.62 6.23 -2.48 5.93 -2.10 5.40C-1.72 4.87 -2.03 4.03 -2.20 3.40C-2.37 2.77 -2.92 2.30 -3.10 1.60C-3.28 0.90 -3.45 0.00 -3.30 -0.80C-3.15 -1.60 -2.75 -2.70 -2.20 -3.20C-1.65 -3.70 -0.37 -3.70 0.00 -3.80Z"/><path d="M7.40 7.60C7.65 7.92 8.58 8.60 8.90 9.50C9.22 10.40 9.18 11.75 9.30 13.00C9.42 14.25 9.38 15.50 9.60 17.00C9.82 18.50 10.27 20.50 10.60 22.00C10.93 23.50 11.27 24.67 11.60 26.00C11.93 27.33 12.23 29.13 12.60 30.00C12.97 30.87 13.48 30.67 13.80 31.20C14.12 31.73 14.43 32.48 14.50 33.20C14.57 33.92 14.48 34.90 14.20 35.50C13.92 36.10 13.27 36.68 12.80 36.80C12.33 36.92 11.77 36.67 11.40 36.20C11.03 35.73 10.73 34.78 10.60 34.00C10.47 33.22 10.80 32.50 10.60 31.50C10.40 30.50 9.80 29.25 9.40 28.00C9.00 26.75 8.52 25.25 8.20 24.00C7.88 22.75 7.67 21.67 7.50 20.50C7.33 19.33 7.35 18.25 7.20 17.00C7.05 15.75 6.72 14.33 6.60 13.00C6.48 11.67 6.52 9.67 6.50 9.00Z"/><path d="M-7.40 7.60C-7.65 7.92 -8.58 8.60 -8.90 9.50C-9.22 10.40 -9.18 11.75 -9.30 13.00C-9.42 14.25 -9.38 15.50 -9.60 17.00C-9.82 18.50 -10.27 20.50 -10.60 22.00C-10.93 23.50 -11.27 24.67 -11.60 26.00C-11.93 27.33 -12.23 29.13 -12.60 30.00C-12.97 30.87 -13.48 30.67 -13.80 31.20C-14.12 31.73 -14.43 32.48 -14.50 33.20C-14.57 33.92 -14.48 34.90 -14.20 35.50C-13.92 36.10 -13.27 36.68 -12.80 36.80C-12.33 36.92 -11.77 36.67 -11.40 36.20C-11.03 35.73 -10.73 34.78 -10.60 34.00C-10.47 33.22 -10.80 32.50 -10.60 31.50C-10.40 30.50 -9.80 29.25 -9.40 28.00C-9.00 26.75 -8.52 25.25 -8.20 24.00C-7.88 22.75 -7.67 21.67 -7.50 20.50C-7.33 19.33 -7.35 18.25 -7.20 17.00C-7.05 15.75 -6.72 14.33 -6.60 13.00C-6.48 11.67 -6.52 9.67 -6.50 9.00Z"/></g>
  </defs>
  <use href="#man" x="779.7" y="18.1" filter="url(#soft2)"/>
  <use href="#man" x="935.3" y="11.3" filter="url(#soft2)"/>
</g>
<g id="banner">
  <rect x="0" y="361" width="990.7" height="69.3" fill="url(#gBanner)"/>
  <text x="27.5" y="411.6" style="font-size:50px;font-weight:bold;fill:#151515;stroke:#151515;stroke-width:0">Physiology</text>
  <text x="977.8" y="411.6" text-anchor="end" style="font-size:50px;font-weight:bold;fill:#151515;stroke:#151515;stroke-width:0">Pathology</text>
</g>
<g id="liposome">
<g filter="url(#soft2)">
<circle cx="92.2" cy="651.4" r="67.9" fill="none" stroke="#f3f3f3" stroke-width="20.4"/>
<path d="M92.7 574.4L93.6 583.2M95.1 574.5L94.2 584.5M97.1 574.6L95.2 583.1M98.1 574.6L97.9 583.9M99.7 574.8L100.3 584.5M102.5 575.1L100.7 583.8M104.4 575.4L104.3 585.6M106.2 575.7L106.0 584.3M109.3 576.3L107.2 585.3M111.2 576.8L109.8 585.7M113.1 577.3L109.9 586.3M114.1 577.6L112.1 587.0M116.7 578.4L113.0 587.2M119.3 579.3L115.9 588.3M120.6 579.8L116.7 587.5M123.5 581.1L119.8 590.4M124.8 581.6L119.3 590.2M126.9 582.7L122.7 591.5M129.5 584.0L124.0 591.9M130.7 584.7L126.1 593.5M132.9 586.0L128.3 595.0M133.4 586.4L129.7 594.8M136.1 588.1L130.0 595.1M136.9 588.7L130.7 596.5M139.8 590.9L132.3 597.5M141.2 592.0L134.6 598.8M142.8 593.4L136.2 600.0M144.0 594.5L136.9 601.6M145.4 595.8L140.5 603.4M147.4 597.7L139.9 604.3M148.5 598.9L141.1 605.1M150.6 601.2L143.7 606.3M151.4 602.2L143.7 607.5M152.2 603.2L145.9 610.5M154.3 605.8L146.4 610.8M154.7 606.4L148.3 612.6M156.4 608.9L149.2 614.0M157.7 610.9L149.8 616.2M158.4 612.1L151.1 617.1M159.8 614.5L151.7 618.5M160.4 615.6L152.0 620.5M161.7 618.2L153.7 622.5M162.4 619.8L154.6 624.1M163.4 622.0L155.4 625.4M164.4 624.7L155.6 627.5M164.8 625.7L156.5 628.1M165.6 628.1L156.7 629.7M166.2 630.0L157.4 632.2M166.7 632.1L158.0 634.7M166.9 632.7L158.0 635.8M167.6 635.7L158.4 636.1M167.9 637.4L157.9 638.5M168.2 639.3L158.4 639.9M168.6 641.8L159.6 643.3M168.9 644.3L158.7 644.5M169.0 645.8L159.2 647.5M169.1 647.5L160.0 647.3M169.2 650.2L160.0 651.8M169.2 652.7L160.4 653.0M169.2 653.9L160.0 654.2M168.9 657.8L159.9 656.0M168.9 658.5L158.9 658.4M168.7 660.5L159.4 660.9M168.4 662.7L158.8 660.8M167.9 665.3L159.3 665.1M167.6 666.9L159.2 665.4M167.2 668.8L158.9 667.1M166.7 670.9L157.0 668.8M166.1 672.9L157.3 671.5M165.6 674.7L156.0 672.9M164.8 677.1L155.9 673.3M163.9 679.4L155.4 676.2M163.1 681.4L155.4 676.8M162.4 683.0L154.1 679.0M161.6 684.8L153.3 680.3M160.4 687.2L151.9 681.8M23.9 687.0L32.3 683.1M22.8 684.7L32.0 681.1M21.9 682.9L30.8 678.6M21.3 681.5L29.9 678.6M20.5 679.4L29.2 675.0M19.7 677.4L28.4 675.5M19.1 675.5L27.9 670.7M18.4 673.4L27.4 668.9M17.6 670.6L27.2 668.1M17.4 669.6L26.5 666.7M16.9 667.4L26.3 664.3M16.3 664.4L25.5 662.2M16.0 662.8L25.0 660.9M15.9 661.5L25.9 660.5M15.5 658.7L24.8 657.6M15.4 657.2L24.0 656.2M15.3 654.7L25.2 655.2M15.2 653.0L24.7 651.6M15.2 651.1L24.9 651.8M15.2 648.8L24.5 650.2M15.4 645.9L24.0 645.8M15.6 643.9L24.0 645.8M15.8 642.1L24.8 642.3M16.0 640.6L25.9 642.4M16.3 638.4L24.7 640.1M16.8 636.0L26.4 637.2M17.2 633.9L26.9 635.2M18.0 631.0L27.3 632.4M18.0 630.7L26.6 632.8M18.8 628.0L27.0 630.6M19.4 626.3L29.4 628.0M20.6 623.1L29.5 627.9M20.9 622.3L30.0 626.6M21.9 620.1L30.6 625.1M22.9 617.8L31.3 621.7M23.6 616.4L31.9 621.4M25.1 613.6L33.3 617.6M25.4 613.1L33.7 617.3M26.9 610.6L35.1 614.7M28.2 608.6L36.7 612.8M28.8 607.7L36.3 613.7M31.0 604.7L37.7 611.7M31.3 604.3L39.3 610.3M33.0 602.2L41.2 607.9M33.9 601.1L41.2 607.4M35.6 599.2L43.2 605.2M37.8 596.9L44.4 603.1M38.9 595.8L45.3 601.8M41.0 593.9L46.3 601.2M42.1 592.9L47.7 601.1M43.1 592.1L48.6 599.3M45.2 590.4L49.5 598.8M46.2 589.7L53.0 596.5M49.2 587.5L54.3 595.8M50.1 586.9L56.0 595.1M52.8 585.3L57.7 593.9M53.9 584.6L59.5 592.2M55.7 583.6L61.7 591.3M57.6 582.6L62.6 590.6M60.1 581.4L63.9 589.1M61.5 580.8L63.8 590.1M63.4 580.0L67.3 588.3M65.7 579.1L68.6 588.4M67.2 578.6L70.9 587.4M69.0 578.0L73.3 586.8M72.2 577.0L73.9 586.0M73.5 576.7L74.1 586.2M74.6 576.4L78.3 584.8M77.6 575.8L79.6 585.2M80.2 575.3L81.1 584.1M81.2 575.2L81.6 584.4M83.4 574.9L84.3 584.9M85.7 574.7L86.2 583.6M88.9 574.5L89.5 583.1M90.3 574.4L90.1 583.3M92.5 592.6L91.5 583.3M93.4 592.6L94.3 583.6M96.5 592.8L98.4 583.9M98.1 592.9L99.6 584.4M100.6 593.2L102.1 583.4M102.4 593.5L102.7 583.9M104.2 593.8L107.2 585.4M105.6 594.2L107.3 585.8M107.5 594.6L111.3 585.4M109.4 595.2L112.7 587.1M111.5 595.9L115.6 587.7M112.7 596.3L116.4 588.2M114.9 597.2L119.8 588.9M116.1 597.7L121.5 589.8M118.9 599.0L122.6 590.6M120.6 599.9L123.8 591.4M122.4 600.9L125.0 592.3M123.3 601.5L127.3 592.9M125.0 602.6L130.8 595.0M126.5 603.7L133.3 597.2M128.5 605.1L135.1 597.8M129.9 606.3L137.2 599.9M131.0 607.2L136.2 600.1M132.2 608.3L138.0 600.7M134.4 610.5L142.0 604.3M135.9 612.0L143.3 605.3M136.7 613.0L142.6 606.5M137.8 614.2L145.4 609.0M139.1 615.9L146.7 610.9M140.0 617.2L147.7 611.7M141.5 619.4L150.8 615.3M142.4 620.8L150.1 614.9M143.3 622.3L151.6 618.5M144.5 624.5L152.5 620.5M145.4 626.4L153.5 621.5M146.1 628.0L153.9 622.4M146.7 629.3L155.1 624.5M147.3 630.8L156.7 629.7M148.1 633.2L157.2 628.8M148.7 635.3L157.1 633.5M149.0 636.4L157.8 634.5M149.6 638.8L157.8 636.0M150.1 641.1L158.9 638.1M150.4 643.0L159.8 641.1M150.5 644.1L160.2 642.8M150.8 647.0L160.3 646.3M150.9 647.6L160.6 647.2M151.0 651.1L161.0 650.2M151.0 653.0L160.9 651.7M150.9 654.5L160.8 656.9M150.8 655.9L159.7 656.6M150.6 658.2L159.4 657.8M150.4 659.7L159.1 662.8M150.0 662.0L158.1 665.1M149.5 664.4L158.3 665.3M149.0 666.6L157.7 667.2M148.8 667.4L158.2 669.9M148.2 669.4L156.4 674.3M147.6 671.2L155.4 675.0M146.9 673.0L155.3 676.8M146.0 675.1L154.8 678.4M145.1 677.0L153.1 680.5M144.5 678.2L153.0 682.9M40.1 678.7L32.1 683.8M39.0 676.5L31.0 681.6M38.4 675.0L30.1 677.5M37.9 673.9L29.0 676.5M36.7 670.9L28.5 673.5M36.3 669.7L27.2 673.1M35.9 668.4L26.4 670.5M35.1 665.5L26.9 668.6M34.7 663.7L26.5 667.5M34.5 662.6L25.3 663.4M34.1 660.3L25.4 661.3M33.8 658.1L24.3 657.6M33.6 656.8L24.4 657.2M33.5 653.9L23.9 654.7M33.4 651.8L24.5 653.6M33.4 650.8L23.5 651.3M33.5 648.2L23.4 649.2M33.6 646.5L25.0 645.1M33.8 644.2L25.5 641.6M34.1 642.6L24.4 642.2M34.3 641.0L25.6 640.8M34.8 638.8L24.8 638.1M35.1 637.4L25.7 633.7M35.8 634.8L27.4 632.6M36.1 633.9L27.0 631.3M36.8 631.7L27.9 626.8M37.4 630.0L28.1 627.3M38.2 628.1L29.2 623.6M39.0 626.3L31.4 620.5M39.9 624.6L32.4 618.7M41.0 622.5L31.9 618.3M42.1 620.6L33.8 617.5M43.2 619.0L36.3 612.6M44.1 617.6L37.3 611.7M45.1 616.2L37.5 610.1M46.0 615.0L39.2 608.1M47.8 612.9L40.0 608.5M48.7 611.9L42.6 604.5M50.2 610.2L44.1 604.1M51.4 609.0L46.1 602.2M53.1 607.5L47.1 600.8M54.6 606.2L49.5 597.6M55.8 605.2L48.8 598.1M57.5 603.9L50.6 596.5M59.6 602.5L52.5 595.6M61.0 601.6L56.5 592.8M62.8 600.5L57.1 592.7M64.4 599.6L60.2 590.9M65.8 598.8L60.5 591.2M68.2 597.7L62.4 589.6M69.5 597.2L65.2 589.6M72.0 596.2L69.6 587.6M73.1 595.8L69.2 587.0M74.3 595.4L72.2 586.0M77.0 594.6L74.0 585.9M78.8 594.2L77.7 584.7M80.8 593.7L78.0 585.5M82.4 593.4L79.7 585.2M84.3 593.1L83.3 584.0M86.6 592.9L84.1 583.8M88.8 592.7L89.2 583.2M90.6 592.6L90.5 582.8" fill="none" stroke="#c6c6c6" stroke-width="1.05" stroke-linecap="round"/>
</g>
<path d="M92.2 572.8h0M95.8 572.9h0M99.3 573.1h0M102.8 573.5h0M106.3 574.1h0M109.8 574.8h0M113.3 575.7h0M116.7 576.7h0M120.0 577.9h0M123.3 579.2h0M126.5 580.7h0M129.7 582.3h0M132.8 584.1h0M135.8 586.0h0M138.7 588.0h0M141.5 590.2h0M144.2 592.5h0M146.8 594.9h0M149.3 597.4h0M151.7 600.1h0M154.0 602.8h0M156.1 605.6h0M158.1 608.6h0M160.0 611.6h0M161.7 614.7h0M163.3 617.9h0M164.7 621.1h0M166.0 624.4h0M167.2 627.8h0M168.2 631.2h0M169.0 634.7h0M169.7 638.1h0M170.2 641.7h0M170.6 645.2h0M170.8 648.7h0M170.8 652.3h0M170.7 655.8h0M170.4 659.4h0M170.0 662.9h0M169.4 666.4h0M168.6 669.9h0M167.7 673.3h0M166.6 676.7h0M165.4 680.0h0M164.0 683.3h0M162.5 686.5h0M160.9 689.7h0M23.5 689.7h0M21.9 686.5h0M20.4 683.3h0M19.0 680.0h0M17.8 676.7h0M16.7 673.3h0M15.8 669.9h0M15.0 666.4h0M14.4 662.9h0M14.0 659.4h0M13.7 655.8h0M13.6 652.3h0M13.6 648.7h0M13.8 645.2h0M14.2 641.7h0M14.7 638.1h0M15.4 634.7h0M16.2 631.2h0M17.2 627.8h0M18.4 624.4h0M19.7 621.1h0M21.1 617.9h0M22.7 614.7h0M24.4 611.6h0M26.3 608.6h0M28.3 605.6h0M30.4 602.8h0M32.7 600.1h0M35.1 597.4h0M37.6 594.9h0M40.2 592.5h0M42.9 590.2h0M45.7 588.0h0M48.6 586.0h0M51.6 584.1h0M54.7 582.3h0M57.9 580.7h0M61.1 579.2h0M64.4 577.9h0M67.7 576.7h0M71.1 575.7h0M74.6 574.8h0M78.1 574.1h0M81.6 573.5h0M85.1 573.1h0M88.6 572.9h0M92.2 594.2h0M95.8 594.3h0M99.3 594.6h0M102.8 595.2h0M106.3 596.0h0M109.7 596.9h0M113.1 598.1h0M116.3 599.5h0M119.5 601.1h0M122.6 602.9h0M125.5 604.9h0M128.4 607.1h0M131.0 609.4h0M133.6 611.9h0M136.0 614.6h0M138.2 617.3h0M140.2 620.3h0M142.0 623.3h0M143.7 626.5h0M145.1 629.7h0M146.4 633.0h0M147.4 636.5h0M148.2 639.9h0M148.8 643.4h0M149.2 647.0h0M149.4 650.5h0M149.3 654.1h0M149.1 657.6h0M148.6 661.1h0M147.9 664.6h0M146.9 668.1h0M145.8 671.4h0M144.4 674.7h0M142.9 677.9h0M41.5 677.9h0M40.0 674.7h0M38.6 671.4h0M37.5 668.1h0M36.5 664.6h0M35.8 661.1h0M35.3 657.6h0M35.1 654.1h0M35.0 650.5h0M35.2 647.0h0M35.6 643.4h0M36.2 639.9h0M37.0 636.5h0M38.0 633.0h0M39.3 629.7h0M40.7 626.5h0M42.4 623.3h0M44.2 620.3h0M46.2 617.3h0M48.4 614.6h0M50.8 611.9h0M53.4 609.4h0M56.0 607.1h0M58.9 604.9h0M61.8 602.9h0M64.9 601.1h0M68.1 599.5h0M71.3 598.1h0M74.7 596.9h0M78.1 596.0h0M81.6 595.2h0M85.1 594.6h0M88.6 594.3h0" fill="none" stroke="#f4ef6c" stroke-width="3.2" stroke-linecap="round"/>
<path d="M56.9 585.5C56.7 583.8 55.0 574.9 55.9 573.7C56.8 572.4 61.6 577.3 62.8 576.8C64.1 576.3 63.4 570.6 64.6 570.2C65.7 569.8 69.8 574.4 71.1 574.0C72.4 573.7 72.3 567.9 73.5 567.7C74.8 567.4 78.3 572.4 79.6 572.2C81.0 572.0 81.5 566.3 82.7 566.1C84.0 566.0 87.0 571.4 88.3 571.3C89.6 571.2 90.8 565.6 92.1 565.6C93.3 565.6 95.7 571.3 97.0 571.3C98.4 571.4 100.1 565.9 101.4 566.1C102.6 566.2 105.1 571.5 105.7 572.3" fill="none" stroke="#5b4755" stroke-width="3.0" stroke-linejoin="round" stroke-linecap="round"/>
<path d="M106.1 572.4L107.8 567.6 C107.5 574.9 111.3 575.8 112.7 571.6L114.1 569.1 C113.3 576.3 117.1 577.5 118.8 573.4L120.4 571.0 C119.0 578.2 122.7 579.6 124.7 575.7L126.5 573.4 C124.6 580.4 128.1 582.1 130.4 578.4L132.4 576.3 C129.9 583.1 133.3 585.1 135.9 581.5L138.0 579.6 C135.0 586.2 138.2 588.4 141.1 585.1L143.4 583.3 C139.9 589.7 142.9 592.2 146.0 589.0L148.5 587.4 C144.5 593.5 147.3 596.2 150.7 593.3L153.2 591.9 C148.8 597.7 151.4 600.6 155.0 598.0L157.6 596.8 C152.7 602.2 155.1 605.3 158.9 603.0" fill="none" stroke="#5b4755" stroke-width="1.9" stroke-linejoin="round" stroke-linecap="round"/>
<path d="M161.3 598.6C161.6 600.2 162.0 603.8 162.6 606.6C163.2 609.3 163.3 610.4 164.4 612.2C165.4 614.1 166.6 614.8 167.9 615.8C169.2 616.8 169.9 617.6 170.8 617.2C171.6 616.9 171.3 614.8 172.0 614.0C172.7 613.2 173.4 612.5 174.3 613.3C175.3 614.1 175.9 616.5 176.8 618.1C177.7 619.7 177.9 621.5 178.6 621.1C179.3 620.8 179.4 617.6 180.4 616.3C181.4 615.0 182.1 615.0 183.6 614.6C185.0 614.1 185.9 614.6 187.5 614.0C189.1 613.4 189.8 612.2 191.6 611.5C193.3 610.8 194.7 611.1 196.0 610.5C197.3 609.8 197.2 608.8 198.1 608.3C199.1 607.8 199.9 607.6 200.6 608.0C201.3 608.4 201.9 609.4 201.7 610.5C201.5 611.5 200.5 612.7 199.6 613.3C198.6 614.0 197.6 614.2 196.9 613.7C196.2 613.1 196.1 609.9 196.0 610.5C195.9 611.0 196.1 614.2 196.5 616.3C197.0 618.5 197.6 619.5 198.1 621.1C198.7 622.8 199.3 623.4 199.2 624.7C199.1 626.0 198.1 626.4 197.4 627.5C196.7 628.7 195.8 629.4 195.6 630.6C195.5 631.7 196.1 632.8 196.9 633.2C197.7 633.7 199.0 633.5 199.6 632.9C200.2 632.2 200.3 630.7 199.9 630.0C199.6 629.3 198.4 628.3 197.8 629.3C197.2 630.3 197.0 632.8 196.9 635.0C196.8 637.2 196.9 638.6 197.4 640.3C198.0 642.1 199.7 642.6 199.6 643.9C199.4 645.1 197.8 645.1 196.9 646.6C196.0 648.0 196.0 649.3 195.1 651.0C194.2 652.7 193.8 653.8 192.4 654.9C191.1 656.0 190.0 656.8 188.5 656.7C187.0 656.6 185.8 655.7 185.0 654.6C184.2 653.4 184.3 652.1 184.6 651.0C185.0 649.9 186.3 649.3 186.8 648.9" fill="none" stroke="#141414" stroke-width="1.1" stroke-linecap="round" stroke-linejoin="round"/>
<path d="M199.6 643.9C200.3 644.4 201.8 645.5 203.1 646.6C204.5 647.6 205.2 648.0 206.3 649.2C207.4 650.4 208.7 651.5 208.8 652.4C208.9 653.3 207.4 654.0 206.7 653.8C205.9 653.7 204.9 652.7 204.9 651.9C204.9 651.0 205.5 649.8 206.7 649.6C207.8 649.3 209.2 650.2 210.6 650.6C212.0 651.1 213.1 651.2 213.8 651.9C214.5 652.6 214.6 653.7 214.1 654.2C213.7 654.7 212.4 654.9 211.6 654.6C210.9 654.2 210.8 652.8 210.6 652.4" fill="none" stroke="#141414" stroke-width="1.1" stroke-linecap="round" stroke-linejoin="round"/>
</g>
<g id="bottomleft">
  <text x="14.6" y="520.5" style="font-size:26.1px">Membrane</text>
  <text x="6.3" y="552.1" style="font-size:26.1px">association</text>
  <text class="pur" x="174.3" y="553" style="font-size:25.2px;font-weight:bold">N</text>
  <text class="pur" x="312.3" y="574" style="font-size:25.2px;font-weight:bold">C</text>
  <text class="pur" x="339.5" y="529" style="font-size:26.1px;font-weight:bold"><tspan style="font-weight:normal">α</tspan>Syn</text>
  <text x="249.6" y="674.7" style="font-size:26.1px;font-weight:bold;fill:#8aa0ba;stroke:#8aa0ba">Dcp1</text>
  <text class="pur" x="446.5" y="673.3" style="font-size:26.1px;font-weight:bold"><tspan style="font-weight:normal">α</tspan>Syn</text>
</g>
<g id="chain" fill="none" stroke="#4a2384" stroke-linecap="round" stroke-linejoin="round">
<path stroke-width="2.8" d="M186.7 527.9C187.7 527.8 190.6 528.4 191.7 527.4C192.9 526.3 192.4 524.7 192.5 522.5C192.5 520.2 191.5 517.8 192.1 516.1C192.7 514.4 194.1 513.8 195.4 514.0C196.6 514.2 197.1 516.1 198.4 517.1C199.8 518.0 200.5 519.3 202.1 518.9C203.6 518.4 204.1 516.0 206.2 514.7C208.3 513.4 210.1 512.2 212.4 512.5C214.6 512.8 215.7 514.2 217.4 516.1C219.1 518.1 219.4 521.3 221.0 522.5C222.7 523.6 223.9 522.4 225.5 521.9C227.2 521.5 227.7 519.5 229.2 520.1C230.6 520.8 231.4 524.8 232.8 525.2C234.1 525.5 234.9 523.3 235.8 521.9C236.8 520.6 236.4 519.6 237.7 518.3C239.0 517.0 241.1 515.0 242.4 515.4C243.7 515.9 243.4 519.1 244.2 520.7C244.9 522.3 245.1 523.9 246.0 523.4C246.8 522.8 247.3 519.8 248.5 518.0C249.7 516.1 250.3 515.4 251.8 514.3C253.2 513.3 254.5 512.4 255.7 512.9C257.0 513.4 257.1 516.2 258.1 517.1C259.0 517.9 259.3 517.9 260.4 517.1C261.5 516.2 262.3 513.3 263.5 512.9C264.7 512.5 265.1 514.1 266.2 515.2C267.3 516.4 267.8 518.2 268.9 518.9C270.0 519.5 271.1 518.4 271.6 518.3"/>
<path stroke-width="3.5" d="M269.7 517.0C270.4 517.1 272.1 518.2 273.1 517.7C274.0 517.2 274.7 515.9 274.5 514.4C274.2 512.8 272.5 511.6 271.9 509.9C271.2 508.1 270.6 506.9 271.2 505.6C271.7 504.3 273.1 503.9 274.5 503.2C275.9 502.5 276.9 503.0 278.0 502.0C279.2 501.1 279.2 499.8 280.4 498.5C281.6 497.2 282.3 496.0 284.0 495.5C285.6 495.1 287.3 496.9 288.7 496.1C290.1 495.4 290.5 493.4 291.1 491.9C291.7 490.3 291.1 489.3 291.8 488.3C292.5 487.3 293.7 486.4 294.6 486.6C295.6 486.9 296.6 488.0 296.5 489.5C296.4 491.0 295.0 492.3 294.2 494.2C293.3 496.1 292.4 497.2 292.3 499.0C292.1 500.7 292.5 501.9 293.4 503.1C294.4 504.3 295.5 504.4 297.0 504.9C298.5 505.4 300.0 504.8 301.1 505.6C302.3 506.4 303.0 507.6 302.9 509.0C302.8 510.5 300.9 511.2 300.6 512.7C300.2 514.3 300.4 515.7 301.3 516.7C302.1 517.8 303.7 517.1 304.7 517.9C305.7 518.8 306.2 519.6 306.5 520.9C306.7 522.2 305.5 523.5 305.9 524.4C306.2 525.4 308.1 524.9 308.3 525.7C308.4 526.6 307.2 527.5 306.5 528.6C305.8 529.6 304.7 530.0 304.7 531.0C304.7 531.9 305.2 532.7 306.5 533.3C307.8 533.9 309.3 533.8 311.2 534.0C313.1 534.3 314.1 534.9 316.0 534.5C317.9 534.1 319.0 532.6 320.7 532.1C322.4 531.7 323.1 531.7 324.3 532.4C325.4 533.1 325.6 534.2 326.6 535.7C327.7 537.2 328.5 539.6 329.6 539.9C330.7 540.1 331.0 538.3 332.1 536.9C333.1 535.5 333.8 533.5 334.9 532.9C336.1 532.2 337.3 532.7 337.8 533.6C338.2 534.4 337.4 536.4 337.3 537.1"/>
<path stroke-width="3.5" d="M312.4 534.5C312.3 535.7 311.6 538.3 311.7 540.4C311.8 542.6 313.0 543.1 313.0 545.2C313.0 547.3 312.6 549.2 311.8 551.1C311.0 553.0 310.4 553.8 308.9 554.7C307.3 555.5 305.8 555.9 304.1 555.4C302.5 554.9 301.4 553.9 300.6 552.3C299.7 550.7 300.2 548.5 300.1 547.6"/>
<path stroke-width="3.2" d="M320.7 532.4C321.4 533.1 322.6 534.8 324.3 535.9C325.9 537.1 328.1 537.8 329.0 538.3"/>
<circle cx="336.1" cy="534.8" r="2.7" fill="#4a2384" stroke="none"/>
<circle cx="302.7" cy="515.6" r="2.6" fill="#4a2384" stroke="none"/>
<circle cx="294.2" cy="489.5" r="2.8" fill="#4a2384" stroke="none"/>
</g>
<g id="arrowsN" fill="none" stroke="#141414" stroke-width="1.25">
<path d="M209.3 536.4 C 209.5 560, 193 576.5, 164 579.6"/>
<path d="M216.5 536.4 C 218 560, 236 576.5, 262 579.8"/>
</g>
<path d="M156.3 579.9 L165.8 574.6 L165.8 585.2 Z" fill="#141414"/>
<path d="M270.4 579.9 L260.8 574.6 L260.8 585.2 Z" fill="#141414"/>
<g id="blob1">
<path d="M425.4 646.4C427.2 647.1 433.3 648.3 436.3 650.1C439.3 651.9 441.8 654.9 443.5 657.3C445.2 659.7 446.5 662.4 446.2 664.5C446.0 666.7 444.2 668.6 442.1 670.3C439.9 672.0 436.3 673.5 433.6 674.5C430.8 675.5 426.8 676.0 425.4 676.3" fill="none" stroke="#b3b3b3" stroke-width="4.2" stroke-linecap="round"/>
<path d="M287.2 637.4C286.6 634.4 288.2 629.0 289.9 624.8C291.5 620.5 295.0 616.0 297.1 612.1C299.2 608.2 300.1 604.1 302.5 601.3C304.9 598.4 308.9 596.3 311.6 594.9C314.3 593.6 316.8 592.4 318.8 593.1C320.8 593.9 322.1 596.9 323.3 599.5C324.5 602.0 325.0 605.5 326.0 608.5C327.1 611.5 329.3 614.3 329.6 617.5C330.0 620.8 327.3 627.0 328.2 628.0C329.1 629.1 332.4 624.6 335.1 623.9C337.7 623.2 341.4 622.9 344.1 623.9C346.8 624.9 348.6 629.4 351.3 629.8C354.0 630.3 357.7 627.3 360.4 626.6C363.1 625.9 365.5 625.1 367.6 625.7C369.6 626.3 371.4 627.9 372.7 630.2C373.9 632.4 373.6 636.5 375.2 639.2C376.8 641.9 380.2 644.0 382.1 646.4C383.9 648.9 386.0 651.0 386.0 653.7C386.1 656.4 383.9 660.0 382.4 662.7C380.9 665.4 378.9 667.7 377.0 669.9C375.1 672.2 374.0 674.8 371.2 676.3C368.4 677.8 363.6 679.0 360.4 679.0C357.1 679.0 353.5 678.1 351.7 676.3C349.9 674.5 351.1 670.7 349.5 668.1C348.0 665.6 344.1 663.0 342.3 660.9C340.5 658.9 340.5 656.5 338.7 655.8C336.9 655.2 334.2 656.8 331.4 657.3C328.7 657.8 325.4 659.4 322.4 659.1C319.4 658.8 316.4 657.3 313.4 655.5C310.4 653.7 307.7 650.4 304.3 648.3C301.0 646.1 296.4 644.6 293.5 642.8C290.6 641.0 287.8 640.4 287.2 637.4Z" fill="#afbbcb" filter="url(#blobtexB)"/>
<path d="M372.7 631.1C373.2 632.3 374.5 636.1 375.7 638.3C377.0 640.6 378.8 642.7 380.2 644.6C381.7 646.6 383.6 649.2 384.2 650.1" fill="none" stroke="#9c9c9c" stroke-opacity="0.6" stroke-width="3.6" stroke-linecap="round"/>
<path d="M372.1 626.9C372.7 624.2 375.6 622.4 378.4 621.1C381.3 619.9 386.3 620.5 389.3 619.3C392.3 618.1 393.5 615.9 396.5 613.9C399.5 612.0 403.7 609.1 407.4 607.6C411.0 606.1 415.4 604.1 418.2 604.9C421.0 605.6 422.4 609.4 424.0 612.1C425.6 614.8 426.6 617.8 427.6 621.1C428.6 624.5 429.9 628.4 430.1 632.0C430.4 635.6 430.1 639.5 429.0 642.8C428.0 646.1 425.8 649.5 424.0 651.9C422.2 654.3 420.4 655.8 418.2 657.3C416.0 658.8 413.4 659.7 411.0 660.9C408.6 662.1 406.2 663.7 403.7 664.5C401.3 665.3 398.6 666.2 396.5 665.6C394.4 665.0 392.6 663.1 391.1 660.9C389.6 658.7 389.0 654.6 387.5 652.2C386.0 649.8 384.1 648.9 382.1 646.4C380.0 644.0 376.8 641.0 375.2 637.8C373.5 634.5 371.6 629.7 372.1 626.9Z" fill="#e4ce8c" fill-opacity="0.95" filter="url(#blobtexY)"/>
<path d="M390.7 620.8C391.0 620.3 394.9 620.8 396.5 621.7C398.1 622.5 400.8 625.3 400.5 625.8C400.2 626.4 396.3 625.6 394.7 624.8C393.1 623.9 390.4 621.3 390.7 620.8Z" fill="#ffffff"/>
<path d="M361.3 673.9C362.4 673.5 364.7 672.5 366.7 671.8C368.7 671.0 369.4 670.7 371.2 670.3C373.0 669.9 374.2 670.1 375.7 669.6C377.2 669.1 377.8 669.0 378.8 667.8C379.8 666.6 379.9 665.2 380.6 663.6C381.3 662.1 381.9 661.6 382.4 660.0C382.9 658.4 382.6 657.2 383.1 655.5C383.6 653.8 384.2 652.9 384.9 651.5C385.7 650.1 386.0 648.7 386.8 648.6C387.5 648.5 388.0 650.2 388.9 651.1C389.9 652.1 390.3 652.4 391.5 653.3C392.6 654.2 393.6 654.5 394.7 655.5C395.8 656.4 395.8 656.9 396.9 658.0C398.0 659.1 398.8 660.6 400.1 660.9C401.4 661.2 402.2 659.5 403.4 659.5C404.5 659.4 404.8 659.8 405.9 660.5C407.0 661.3 407.6 662.8 408.8 663.4C410.0 664.1 410.7 663.4 411.9 663.8C413.0 664.2 413.5 665.2 414.6 665.2C415.7 665.2 416.1 664.3 417.3 663.8C418.5 663.3 419.1 662.6 420.4 662.7C421.6 662.9 422.4 663.9 423.6 664.5C424.9 665.1 425.4 665.9 426.5 665.6C427.7 665.3 428.3 663.8 429.4 663.1C430.6 662.4 431.1 661.8 432.3 662.0C433.5 662.1 434.2 663.5 435.4 663.8C436.5 664.1 437.1 663.0 438.1 663.4C439.1 663.9 439.7 665.0 440.3 666.0C440.8 667.0 440.8 668.0 441.0 668.5" fill="none" stroke="#4a2384" stroke-width="4.9" stroke-linecap="round" stroke-linejoin="round"/>
<circle cx="386.8" cy="648.6" r="3.2" fill="#4a2384"/>
<circle cx="440.6" cy="667.8" r="3.0" fill="#4a2384"/>
</g>
<g id="bottommid">
  <rect x="403" y="508.6" width="154" height="29.6" fill="url(#gAcc)"/>
  <path d="M556.4 496.6 L582.9 522.4 L556.4 548.4 Z" fill="#8e6bb5"/>
  <text x="410.3" y="526.7" style="font-size:21px;font-weight:bold;fill:#111;stroke:#111;stroke-width:0.15px">Accumulation</text>
</g>
<g id="aggregate" fill="none" stroke="#4a2384" stroke-linecap="round" stroke-linejoin="round">
<path stroke-width="3.4" d="M631.1 520.4C631.8 520.5 633.6 521.7 634.6 520.8C635.5 519.8 634.3 516.6 635.5 516.0C636.6 515.4 638.8 517.6 639.8 518.1M659.5 531.9C658.9 531.4 658.2 529.4 657.0 529.7C655.7 530.0 655.1 533.4 653.9 533.3C652.7 533.2 652.0 530.1 651.5 529.2M649.2 527.4C649.7 528.0 650.3 530.0 651.8 529.9C653.2 529.8 654.2 526.6 655.6 526.9C656.9 527.2 656.4 530.9 657.8 531.2C659.1 531.5 660.7 528.8 661.6 528.2M627.7 511.5C626.9 511.1 625.7 509.4 624.3 509.9C622.9 510.5 622.9 513.9 621.5 514.0C620.1 514.2 619.3 510.5 617.9 510.6C616.5 510.8 615.7 513.8 615.1 514.7M667.0 523.3C666.5 522.6 666.3 520.4 664.8 520.2C663.3 520.0 661.7 523.0 660.3 522.4C659.0 521.8 659.2 518.7 658.9 517.6M641.5 537.9C640.8 538.1 638.7 537.6 638.2 538.8C637.6 540.0 639.9 542.5 639.1 543.5C638.2 544.4 635.4 543.1 634.3 543.0M650.8 511.1C650.6 510.4 650.9 508.4 649.7 507.9C648.4 507.5 646.2 510.1 645.2 509.3C644.2 508.6 646.2 505.3 645.2 504.6C644.2 503.8 641.7 505.6 640.7 505.9M656.5 520.7C656.0 520.2 655.2 518.2 653.9 518.5C652.6 518.8 651.9 522.1 650.6 522.0C649.4 521.9 649.5 518.0 648.2 517.9C646.9 517.8 645.7 520.6 644.9 521.4M632.5 518.9C631.8 518.9 630.0 517.8 629.2 518.8C628.4 519.8 629.9 522.8 628.9 523.5C627.8 524.2 625.5 521.1 624.5 521.8C623.5 522.5 625.2 525.8 624.2 526.5C623.2 527.2 620.8 525.2 619.8 524.8M655.3 509.4C654.6 509.1 653.1 507.5 652.0 508.3C650.8 509.0 651.3 512.4 650.1 512.7C648.8 513.0 647.5 509.4 646.3 509.7C645.0 510.1 644.8 513.2 644.3 514.1M620.2 530.8C619.4 530.9 617.5 529.9 616.7 531.0C615.8 532.1 617.4 535.1 616.3 535.9C615.2 536.6 612.8 533.7 611.6 534.5C610.5 535.3 611.4 538.3 611.3 539.4M630.8 518.2C631.3 518.8 631.8 520.9 633.2 520.9C634.6 520.8 635.8 517.7 637.1 518.0C638.4 518.4 638.5 521.5 638.9 522.5M608.7 534.9C609.2 535.5 609.6 537.6 611.0 537.6C612.5 537.6 613.8 534.4 615.0 534.8C616.3 535.2 615.6 538.9 616.8 539.3C618.1 539.7 619.9 537.2 620.8 536.6M652.2 509.4C653.0 509.3 654.9 510.4 655.9 509.2C656.9 508.1 655.4 505.1 656.6 504.3C657.8 503.5 660.1 506.6 661.3 505.8C662.5 505.0 661.8 502.0 662.0 500.9M627.2 525.3C627.1 524.5 627.8 522.5 626.6 521.7C625.4 520.9 622.6 522.9 621.7 521.8C620.8 520.8 622.4 518.1 622.6 517.0M600.9 522.7C601.4 523.3 601.9 525.4 603.3 525.4C604.8 525.4 606.2 522.3 607.5 522.7C608.9 523.2 609.0 526.3 609.5 527.3M635.3 536.1C634.6 536.0 632.9 534.7 632.0 535.7C631.2 536.6 632.5 539.7 631.5 540.3C630.4 540.9 628.4 537.7 627.3 538.2C626.3 538.8 627.8 542.3 626.8 542.9C625.7 543.4 623.5 541.2 622.6 540.8M621.1 527.6C621.2 526.8 622.3 525.0 621.3 524.2C620.3 523.3 617.2 524.7 616.6 523.6C616.0 522.5 618.0 520.2 618.4 519.2M646.1 524.3C645.6 523.8 645.2 521.7 643.8 521.7C642.5 521.8 641.3 525.0 640.0 524.6C638.8 524.3 639.5 520.5 638.2 520.2C637.0 519.9 635.3 522.5 634.4 523.1M613.9 531.8C613.3 531.4 612.2 529.6 611.0 530.1C609.8 530.6 609.7 534.0 608.5 534.1C607.3 534.1 606.7 530.4 605.5 530.5C604.3 530.5 604.2 534.3 603.0 534.4C601.8 534.5 600.6 531.6 600.0 530.8M637.2 521.1C636.8 520.4 636.7 518.3 635.2 518.0C633.8 517.8 632.0 520.6 630.7 520.0C629.4 519.4 630.8 515.8 629.6 515.2C628.3 514.6 626.1 516.7 625.1 517.2M624.2 530.8C625.0 530.7 626.9 531.6 627.6 530.5C628.2 529.3 626.2 526.6 627.1 525.8C628.1 525.0 630.8 527.7 631.7 526.8C632.6 526.0 630.4 523.0 631.3 522.2C632.2 521.4 634.8 523.0 635.8 523.2M647.8 516.1C648.5 516.5 649.4 518.4 650.6 518.0C651.8 517.6 652.1 514.2 653.4 514.2C654.6 514.2 654.9 518.0 656.1 518.0C657.4 518.0 658.3 515.1 658.9 514.2M657.1 531.4C657.3 532.2 656.8 534.3 658.1 534.8C659.3 535.3 661.8 533.0 662.8 533.9C663.8 534.7 662.6 537.6 662.5 538.7M636.8 509.4C637.1 510.1 636.9 512.2 638.2 512.6C639.5 513.0 641.6 510.3 642.7 511.0C643.8 511.7 641.9 515.1 643.0 515.8C644.1 516.5 646.5 514.6 647.5 514.2M622.7 523.0C621.9 522.8 620.4 521.3 619.2 522.1C617.9 522.9 618.6 526.2 617.2 526.6C615.9 527.0 614.0 524.5 613.1 523.9M636.3 536.1C635.5 536.4 633.3 536.0 632.8 537.4C632.2 538.8 634.6 541.2 633.6 542.3C632.7 543.4 629.6 541.3 628.7 542.4C627.7 543.5 629.3 546.2 629.5 547.3M660.7 520.8C660.0 520.9 658.0 520.2 657.5 521.4C656.9 522.5 659.1 525.1 658.2 526.0C657.3 526.8 654.4 524.4 653.6 525.2C652.7 526.1 655.2 529.0 654.3 529.9C653.5 530.7 650.7 529.3 649.7 529.1M648.0 533.9C648.5 534.4 649.0 536.5 650.2 536.3C651.5 536.2 652.5 532.9 653.7 533.2C654.9 533.5 654.4 537.2 655.5 537.5C656.7 537.8 657.8 534.1 659.0 534.4C660.2 534.7 660.4 537.8 660.8 538.7M635.7 507.7C635.3 507.0 635.3 504.9 634.0 504.7C632.7 504.6 631.0 507.5 629.8 507.0C628.7 506.4 630.1 502.9 629.0 502.3C627.8 501.8 625.9 505.1 624.8 504.5C623.7 504.0 624.1 500.9 623.9 499.9M620.7 513.0C621.4 513.4 622.4 515.3 623.8 515.0C625.2 514.6 625.7 511.2 627.1 511.3C628.5 511.3 629.4 514.3 630.1 515.2M639.5 523.6C640.1 524.1 640.7 526.1 642.0 525.8C643.2 525.5 643.9 522.2 645.1 522.3C646.2 522.5 646.8 525.5 647.3 526.4M632.4 518.4C633.1 518.2 635.2 518.7 635.5 517.5C635.9 516.3 633.5 514.0 634.2 513.1C634.9 512.1 638.1 514.3 638.8 513.3C639.5 512.4 636.7 509.8 637.4 508.9C638.1 508.0 641.0 509.1 642.0 509.2M650.6 526.4C651.0 527.0 651.2 529.1 652.5 529.1C653.9 529.2 655.3 526.1 656.5 526.5C657.7 527.0 656.6 530.6 657.8 531.1C659.0 531.5 660.9 529.1 661.8 528.5M629.1 505.9C629.7 506.4 630.5 508.5 631.9 508.3C633.4 508.1 634.3 504.8 635.7 505.1C637.0 505.3 636.8 509.1 638.2 509.3C639.6 509.5 641.1 506.8 641.9 506.1M640.3 515.2C639.5 515.5 637.3 515.1 636.6 516.5C635.9 517.9 638.2 520.4 637.2 521.6C636.2 522.7 633.3 521.6 632.1 521.6M606.3 531.5C607.0 531.2 609.1 531.6 609.5 530.3C609.9 529.1 607.4 526.8 608.1 525.8C608.9 524.9 611.8 525.9 612.8 525.9M630.3 506.6C631.1 506.4 633.2 507.0 633.8 505.7C634.4 504.4 632.2 501.9 633.1 500.9C634.0 499.9 636.9 501.2 638.0 501.3M612.5 526.3C613.3 526.4 614.9 527.7 615.8 526.8C616.6 525.9 615.4 522.8 616.4 522.2C617.5 521.7 619.4 525.0 620.5 524.4C621.6 523.9 620.1 520.4 621.2 519.9C622.2 519.3 624.3 521.6 625.2 522.1M663.5 530.0C663.7 530.7 663.1 532.7 664.3 533.2C665.4 533.8 668.0 531.5 668.9 532.3C669.8 533.2 668.4 536.0 668.3 537.0M667.6 522.5C667.7 523.3 666.6 525.2 667.7 526.1C668.8 526.9 671.8 525.3 672.5 526.5C673.3 527.6 671.4 530.0 671.0 531.1M618.1 523.3C618.9 523.6 620.2 525.3 621.5 524.6C622.7 523.9 622.3 520.5 623.6 520.3C624.9 520.0 626.5 522.7 627.3 523.4M657.2 522.7C657.1 521.9 657.9 519.9 656.7 519.0C655.4 518.2 652.6 520.0 651.7 518.9C650.8 517.8 652.4 515.1 652.6 514.0M624.6 508.1C624.3 507.3 624.5 505.2 623.2 504.8C621.8 504.4 619.7 507.1 618.6 506.3C617.5 505.6 618.3 502.6 618.2 501.5M624.5 539.6C625.1 540.1 625.8 542.1 627.2 541.9C628.7 541.8 629.6 538.5 630.9 538.7C632.3 538.9 632.0 542.7 633.4 543.0C634.8 543.2 636.3 540.5 637.1 539.7M660.5 527.4C661.1 527.9 662.0 529.8 663.2 529.3C664.5 528.9 664.8 525.6 666.0 525.6C667.3 525.6 668.2 528.5 668.8 529.4"/>
<path stroke-width="6" d="M617.4 522.1h0M642.9 523.7h0M646.7 517.7h0M653.2 519.9h0M633.9 521.6h0M653.2 526.6h0M626.4 520.4h0M636.5 530.8h0M633.3 527.3h0M649.7 528.5h0M617.3 525.2h0M639.7 522.2h0M625.8 517.4h0M650.8 526.9h0"/>
<path stroke-width="3.0" d="M619.6 506.7C620.1 506.1 621.7 505.4 621.6 504.1C621.4 502.7 618.9 502.0 619.1 500.7C619.3 499.5 622.3 499.6 622.5 498.3C622.7 497.1 619.8 496.3 620.0 495.0C620.2 493.7 622.9 493.8 623.4 492.6C623.9 491.4 623.0 490.7 622.4 489.5C621.7 488.4 621.4 487.6 620.5 487.4C619.5 487.2 618.7 488.4 618.2 488.7M605.2 508.5C605.3 507.7 606.5 506.2 605.7 504.8C605.0 503.4 602.7 503.6 601.9 502.3C601.2 500.9 602.0 499.9 602.5 498.6C603.0 497.2 603.2 496.5 604.1 496.2C605.0 496.0 605.9 497.0 606.5 497.3M603.4 513.9C602.8 513.5 602.1 511.9 600.9 512.1C599.6 512.2 599.0 514.8 597.8 514.7C596.6 514.5 596.6 511.5 595.4 511.3C594.2 511.2 593.6 513.8 592.3 514.0C591.1 514.1 590.7 513.1 589.8 512.1C588.9 511.2 588.2 510.6 588.3 509.7C588.4 508.8 589.8 508.3 590.2 507.9M605.2 521.1C604.5 520.9 603.3 519.7 602.2 520.2C601.0 520.8 601.3 523.5 600.1 523.7C598.9 523.9 598.0 521.1 596.8 521.3C595.6 521.5 595.8 524.2 594.6 524.8C593.5 525.4 592.6 523.5 591.6 523.9C590.7 524.2 590.2 525.4 590.3 526.4C590.4 527.3 591.8 527.6 592.3 528.0M608.8 529.3C608.1 529.5 606.4 529.1 605.7 530.2C605.1 531.3 606.8 533.4 605.9 534.3C605.0 535.2 602.7 533.3 601.8 534.2C600.9 535.1 602.6 537.2 601.9 538.3C601.3 539.4 600.2 539.1 598.9 539.2C597.6 539.4 596.7 539.6 596.0 538.9C595.3 538.3 595.8 537.0 595.7 536.4M621.4 539.2C621.2 539.9 619.8 541.1 620.3 542.3C620.8 543.5 623.5 543.5 623.7 544.8C623.8 546.1 620.9 546.8 621.0 548.1C621.2 549.4 623.9 549.4 624.4 550.6C624.9 551.8 623.0 552.7 623.3 553.7C623.5 554.7 624.7 555.3 625.7 555.2C626.6 555.1 627.1 553.8 627.4 553.4M632.3 508.5C632.6 507.8 633.8 506.7 633.8 505.3C633.8 503.9 632.1 503.3 632.3 502.2C632.4 501.1 633.6 500.4 634.5 500.4C635.4 500.3 636.0 501.6 636.5 502.0M646.8 512.1C647.3 511.7 649.0 511.4 649.1 510.1C649.2 508.9 646.7 507.7 647.1 506.6C647.6 505.5 650.2 506.2 650.9 505.2C651.6 504.2 650.8 503.4 650.4 502.2C649.9 501.0 649.8 500.1 648.9 499.7C648.1 499.4 647.0 500.4 646.5 500.5M661.2 513.9C661.9 514.0 663.2 515.1 664.2 514.4C665.1 513.7 664.5 511.1 665.6 510.7C666.7 510.3 668.0 513.0 669.1 512.6C670.1 512.2 669.4 509.3 670.4 508.9C671.5 508.5 672.8 511.2 673.9 510.8C675.0 510.4 674.2 507.5 675.3 507.1C676.4 506.7 677.7 509.4 678.8 509.0C679.9 508.6 679.1 505.7 680.2 505.3C681.3 504.9 682.5 507.3 683.7 507.2C684.9 507.1 684.6 505.1 685.6 504.9C686.6 504.7 687.7 505.5 688.1 506.3C688.4 507.2 687.4 508.2 687.3 508.7M668.4 521.1C669.1 521.5 670.0 522.9 671.2 522.6C672.4 522.2 672.6 519.5 673.8 519.5C675.0 519.4 675.4 522.4 676.6 522.4C677.8 522.3 678.0 519.3 679.2 519.3C680.4 519.2 680.8 522.2 682.0 522.2C683.3 522.2 683.5 519.1 684.7 519.1C685.9 519.1 686.3 522.1 687.5 522.0C688.7 522.0 688.9 519.0 690.1 518.9C691.3 518.9 691.7 521.5 692.9 521.8C694.1 522.1 694.6 521.1 695.6 520.2C696.5 519.4 697.3 518.9 697.3 518.0C697.3 517.1 696.0 516.5 695.6 516.0M670.2 528.4C670.7 528.9 671.1 530.5 672.4 530.5C673.6 530.5 674.6 528.1 675.7 528.4C676.8 528.7 676.3 531.7 677.4 532.0C678.6 532.3 679.6 529.8 680.8 529.8C682.0 529.8 682.2 530.9 682.9 532.0C683.6 533.1 684.2 533.7 684.0 534.6C683.8 535.5 682.4 535.8 681.9 536.1M668.4 537.4C668.9 538.0 669.2 539.7 670.4 539.9C671.7 540.0 673.0 537.7 674.1 538.1C675.3 538.6 674.4 541.5 675.6 542.0C676.7 542.4 678.1 539.8 679.3 540.2C680.4 540.7 679.7 543.3 680.7 544.1C681.7 544.8 682.6 544.1 683.8 543.7C685.1 543.4 685.9 543.2 686.3 542.4C686.7 541.5 685.7 540.5 685.6 539.9M666.6 539.2C666.2 539.8 664.5 540.6 664.6 542.0C664.7 543.5 667.3 544.3 667.0 545.6C666.8 547.0 663.8 546.8 663.5 548.2C663.3 549.5 665.9 550.3 665.9 551.8C666.0 553.2 664.9 553.6 663.9 554.6C662.9 555.5 662.4 556.1 661.4 556.0C660.5 555.9 660.1 554.5 659.8 554.0M654.0 537.4C653.6 538.0 652.5 538.9 652.5 540.1C652.5 541.3 654.1 541.8 654.0 542.8C653.8 543.8 652.7 544.6 651.8 544.6C650.8 544.7 650.2 543.4 649.8 543.0M637.7 539.2C636.9 539.6 635.1 539.7 633.9 540.9C632.7 542.1 632.6 543.2 632.3 544.6C632.0 546.1 631.9 546.8 632.6 547.5C633.2 548.2 634.6 547.7 635.1 547.8M614.2 535.6C613.7 535.9 612.4 535.9 612.0 536.7C611.6 537.5 612.9 538.5 612.4 539.2C611.9 539.9 610.5 540.2 609.6 539.8C608.8 539.5 608.8 538.0 608.6 537.5M661.2 508.5C661.0 507.9 661.1 506.5 660.3 505.9C659.5 505.3 658.2 506.5 657.6 505.8C657.0 505.1 657.0 503.7 657.5 502.9C658.0 502.2 659.4 502.4 660.0 502.3"/>
</g>
<path d="M584.4 548.6 C 571 566, 569 588, 580 601 C 588 609.5, 602 611.6, 618 611.4" fill="none" stroke="#141414" stroke-width="1.4"/>
<path d="M627.8 611.4 L616.8 605.2 L616.8 618 Z" fill="#141414"/>
<g id="complexes" fill="none" stroke-linecap="round" stroke-linejoin="round">
<path stroke="#b5b5b5" stroke-width="4.4" d="M651.6 612.5C654.0 613.0 658.8 615.4 663.6 614.9C668.4 614.4 671.3 612.5 675.7 610.1C680.0 607.7 681.6 605.6 685.3 602.8C689.0 600.0 691.7 599.4 694.0 596.1C696.3 592.8 695.2 589.5 696.9 586.4C698.5 583.4 699.7 581.7 702.2 580.7C704.7 579.6 706.5 580.1 709.4 581.1C712.3 582.2 713.3 585.2 716.6 586.0C719.9 586.7 723.4 586.8 725.8 585.0C728.2 583.2 726.7 579.5 728.7 576.8C730.7 574.2 732.5 572.9 735.9 571.7C739.3 570.6 741.8 570.1 745.5 571.0C749.3 571.9 752.1 573.4 754.7 576.3C757.3 579.2 758.8 582.1 758.6 585.5C758.3 588.9 756.2 590.9 753.3 593.2C750.3 595.5 746.6 594.6 743.6 597.0C740.6 599.5 738.9 601.2 738.3 605.2C737.7 609.3 738.8 613.4 740.7 617.3C742.7 621.1 744.3 622.3 748.0 624.5C751.6 626.7 756.6 627.4 758.8 628.1"/>
<path stroke="#b5b5b5" stroke-width="4.4" d="M581.7 658.3C584.1 658.7 588.9 661.1 593.7 660.7C598.6 660.2 601.4 658.3 605.8 655.8C610.1 653.4 611.8 651.4 615.4 648.6C619.1 645.8 621.8 645.1 624.1 641.9C626.4 638.6 625.3 635.3 627.0 632.2C628.6 629.1 629.8 627.5 632.3 626.4C634.8 625.4 636.6 625.9 639.5 626.9C642.4 628.0 643.5 631.0 646.7 631.7C650.0 632.5 653.5 632.6 655.9 630.8C658.3 629.0 656.8 625.2 658.8 622.6C660.8 619.9 662.7 618.7 666.0 617.5C669.4 616.4 671.9 615.9 675.7 616.8C679.4 617.7 682.2 619.2 684.8 622.1C687.4 625.0 689.0 627.9 688.7 631.3C688.4 634.6 686.4 636.7 683.4 639.0C680.4 641.3 676.7 640.4 673.7 642.8C670.7 645.2 669.0 647.0 668.4 651.0C667.9 655.1 668.9 659.2 670.8 663.1C672.8 666.9 674.5 668.1 678.1 670.3C681.7 672.5 686.7 673.2 688.9 673.9"/>
<path stroke="#b5b5b5" stroke-width="4.4" d="M614.2 689.6C616.6 690.1 621.4 692.5 626.3 692.0C631.1 691.5 634.0 689.6 638.3 687.2C642.7 684.8 644.3 682.7 648.0 679.9C651.6 677.1 654.3 676.5 656.6 673.2C658.9 669.9 657.9 666.6 659.5 663.6C661.2 660.5 662.3 658.8 664.8 657.8C667.3 656.7 669.2 657.2 672.0 658.3C674.9 659.3 676.0 662.3 679.3 663.1C682.6 663.8 686.0 663.9 688.4 662.1C690.8 660.3 689.3 656.6 691.3 653.9C693.3 651.3 695.2 650.0 698.6 648.9C701.9 647.7 704.4 647.2 708.2 648.1C712.0 649.0 714.7 650.5 717.3 653.4C720.0 656.3 721.5 659.2 721.2 662.6C720.9 666.0 718.9 668.0 715.9 670.3C712.9 672.6 709.3 671.7 706.3 674.2C703.3 676.6 701.5 678.3 701.0 682.3C700.4 686.4 701.4 690.5 703.4 694.4C705.3 698.3 707.0 699.5 710.6 701.6C714.2 703.8 719.3 704.5 721.4 705.2"/>
<path stroke="#45207f" stroke-width="1.95" d="M687.7 596.1C688.5 595.7 690.1 594.2 691.3 594.4C692.5 594.6 691.9 596.6 693.0 596.8C694.1 597.0 694.6 595.9 696.1 595.1C697.6 594.3 698.5 594.4 699.8 593.2C701.0 592.0 701.5 591.1 701.7 589.6C701.9 588.1 700.2 587.5 700.7 586.4C701.3 585.4 703.2 585.9 704.1 584.8C705.0 583.6 703.8 582.5 704.6 581.1C705.3 579.8 707.0 580.1 707.5 578.7C707.9 577.4 706.2 575.8 706.5 575.1C706.8 574.5 708.0 574.9 708.9 575.8C709.9 576.8 709.7 578.1 710.8 579.2C712.0 580.3 713.1 579.6 714.2 580.7C715.3 581.7 714.5 582.9 715.7 584.0C716.8 585.2 717.9 586.0 719.5 586.0C721.1 586.0 721.4 583.9 722.9 584.0C724.4 584.1 724.9 585.4 726.3 586.4C727.7 587.5 727.9 588.9 729.2 588.9C730.4 588.9 730.7 586.6 732.0 586.4C733.4 586.3 733.9 587.6 735.4 588.4C736.9 589.1 737.5 590.1 738.8 589.8C740.1 589.5 739.9 587.5 741.2 586.9C742.5 586.4 743.1 587.0 744.6 587.4C746.1 587.8 746.6 589.2 748.0 588.9C749.3 588.5 749.5 586.4 750.8 586.0C752.2 585.5 752.9 586.1 754.2 586.9C755.5 587.8 755.9 588.4 756.6 589.8C757.4 591.2 757.4 592.4 757.6 593.2M699.8 594.6C699.7 595.5 699.0 596.7 699.3 598.5C699.6 600.3 700.0 601.5 701.2 602.8C702.4 604.1 703.6 604.7 704.6 604.3C705.5 603.8 705.3 601.7 705.5 600.9M690.1 598.0C689.5 597.6 687.6 596.9 687.2 596.1C686.9 595.2 688.4 594.6 688.7 594.2"/>
<circle cx="707.0" cy="574.9" r="1.3" fill="#4a2384" stroke="none"/>
<circle cx="688.2" cy="595.6" r="1.2" fill="#4a2384" stroke="none"/>
<path stroke="#45207f" stroke-width="1.95" d="M617.8 641.9C618.6 641.5 620.3 640.0 621.4 640.2C622.6 640.3 622.1 642.4 623.1 642.6C624.2 642.8 624.8 641.7 626.3 640.9C627.8 640.1 628.6 640.2 629.9 639.0C631.1 637.7 631.6 636.9 631.8 635.4C632.0 633.9 630.3 633.3 630.8 632.2C631.4 631.2 633.4 631.7 634.2 630.5C635.1 629.4 633.9 628.3 634.7 626.9C635.4 625.6 637.2 625.9 637.6 624.5C638.0 623.2 636.3 621.5 636.6 620.9C636.9 620.3 638.1 620.7 639.0 621.6C640.0 622.5 639.8 623.9 641.0 625.0C642.1 626.1 643.3 625.4 644.3 626.4C645.4 627.5 644.6 628.6 645.8 629.8C647.0 631.0 648.0 631.7 649.6 631.7C651.2 631.7 651.5 629.7 653.0 629.8C654.5 629.9 655.0 631.2 656.4 632.2C657.8 633.3 658.0 634.6 659.3 634.6C660.6 634.6 660.8 632.3 662.2 632.2C663.6 632.1 664.0 633.4 665.5 634.2C667.0 634.9 667.6 635.9 668.9 635.6C670.2 635.3 670.0 633.2 671.3 632.7C672.6 632.2 673.2 632.8 674.7 633.2C676.2 633.6 676.7 635.0 678.1 634.6C679.5 634.3 679.6 632.2 681.0 631.7C682.4 631.3 683.1 631.9 684.3 632.7C685.6 633.6 686.0 634.2 686.7 635.6C687.5 637.0 687.5 638.2 687.7 639.0M629.9 640.4C629.8 641.3 629.1 642.5 629.4 644.3C629.7 646.1 630.1 647.3 631.3 648.6C632.5 649.9 633.7 650.5 634.7 650.1C635.7 649.6 635.4 647.4 635.7 646.7M620.2 643.8C619.6 643.4 617.7 642.7 617.3 641.9C617.0 641.0 618.5 640.4 618.8 639.9"/>
<circle cx="637.1" cy="620.7" r="1.3" fill="#4a2384" stroke="none"/>
<circle cx="618.3" cy="641.4" r="1.2" fill="#4a2384" stroke="none"/>
<path stroke="#45207f" stroke-width="1.95" d="M650.4 673.2C651.2 672.8 652.8 671.3 654.0 671.5C655.2 671.7 654.6 673.8 655.7 673.9C656.7 674.1 657.3 673.0 658.8 672.2C660.3 671.4 661.2 671.5 662.4 670.3C663.6 669.1 664.1 668.2 664.3 666.7C664.6 665.2 662.8 664.6 663.4 663.6C663.9 662.5 665.9 663.0 666.7 661.9C667.6 660.7 666.5 659.6 667.2 658.3C668.0 656.9 669.7 657.2 670.1 655.8C670.5 654.5 668.8 652.9 669.2 652.2C669.5 651.6 670.6 652.0 671.6 653.0C672.5 653.9 672.3 655.3 673.5 656.3C674.7 657.4 675.8 656.7 676.9 657.8C677.9 658.8 677.1 660.0 678.3 661.1C679.5 662.3 680.6 663.1 682.2 663.1C683.8 663.1 684.0 661.0 685.5 661.1C687.0 661.3 687.5 662.5 688.9 663.6C690.3 664.6 690.5 666.0 691.8 666.0C693.1 666.0 693.3 663.7 694.7 663.6C696.1 663.4 696.6 664.7 698.1 665.5C699.6 666.2 700.2 667.2 701.4 666.9C702.7 666.6 702.6 664.6 703.9 664.0C705.1 663.5 705.7 664.1 707.2 664.5C708.7 664.9 709.2 666.3 710.6 666.0C712.0 665.6 712.1 663.5 713.5 663.1C714.9 662.6 715.6 663.2 716.9 664.0C718.2 664.9 718.5 665.5 719.3 666.9C720.0 668.3 720.0 669.6 720.2 670.3M662.4 671.7C662.3 672.6 661.6 673.8 661.9 675.6C662.2 677.4 662.7 678.7 663.9 679.9C665.0 681.2 666.3 681.8 667.2 681.4C668.2 681.0 668.0 678.8 668.2 678.0M652.8 675.1C652.1 674.7 650.2 674.0 649.9 673.2C649.6 672.3 651.0 671.7 651.3 671.3"/>
<circle cx="669.6" cy="652.0" r="1.3" fill="#4a2384" stroke="none"/>
<circle cx="650.8" cy="672.7" r="1.2" fill="#4a2384" stroke="none"/>
</g>
<path d="M763.6 561.8 C 757.5 543, 768 525.5, 788 520.6 C 803 517.2, 816 519.4, 824 523.6" fill="none" stroke="#141414" stroke-width="1.4"/>
<path d="M833.2 529.4 L826.8 517.4 L820.2 527.8 Z" fill="#141414"/>
<g id="blob2">
<path d="M849.6 550.9C849.1 548.5 850.5 544.0 851.9 540.6C853.2 537.1 856.0 533.4 857.8 530.2C859.5 527.0 860.2 523.8 862.2 521.3C864.2 518.8 867.2 516.9 869.6 515.4C872.1 513.9 874.9 511.9 877.0 512.4C879.1 512.9 881.0 516.1 882.2 518.3C883.5 520.6 883.6 523.3 884.4 525.7C885.3 528.2 887.1 530.5 887.4 533.1C887.7 535.8 885.5 540.6 886.2 541.7C887.0 542.9 889.7 540.1 891.9 539.8C894.0 539.5 896.8 539.1 899.3 539.8C901.7 540.5 904.2 543.9 906.7 544.1C909.1 544.4 911.6 541.8 914.1 541.3C916.5 540.8 919.6 540.6 921.5 541.3C923.3 542.0 923.7 543.6 925.2 545.7C926.7 547.8 928.8 550.8 930.4 553.9C932.0 557.0 934.0 560.6 934.8 564.3C935.6 568.0 935.6 572.2 935.1 576.1C934.6 580.1 933.8 584.5 931.9 588.0C929.9 591.4 925.5 594.7 923.3 596.9C921.0 599.0 920.0 601.2 918.5 600.7C917.0 600.2 915.3 596.5 914.1 593.9C912.8 591.3 911.9 587.7 911.1 585.0C910.4 582.3 911.1 579.6 909.6 577.6C908.1 575.6 904.4 574.4 902.2 573.1C900.0 571.9 898.0 571.4 896.3 570.2C894.6 569.0 893.8 566.3 891.9 566.0C889.9 565.8 886.9 568.3 884.4 568.7C882.0 569.1 879.5 569.2 877.0 568.7C874.6 568.2 872.1 567.2 869.6 565.7C867.2 564.3 864.7 561.5 862.2 559.8C859.8 558.1 856.9 556.9 854.8 555.4C852.7 553.9 850.1 553.4 849.6 550.9Z" fill="#b9bec6" filter="url(#blobtexB)"/>
<path d="M928.9 545.0C930.1 543.6 932.3 542.0 934.8 541.3C937.3 540.6 941.2 541.3 943.7 540.6C946.2 539.8 947.7 538.0 949.6 536.9C951.6 535.7 953.3 533.9 955.6 533.9C957.8 533.9 961.2 535.2 963.0 536.9C964.7 538.5 965.2 540.9 966.2 543.5C967.3 546.1 968.4 549.2 969.2 552.4C969.9 555.6 970.9 559.8 970.7 562.8C970.4 565.7 968.9 567.7 967.7 570.2C966.5 572.7 965.0 575.4 963.3 577.6C961.5 579.8 959.3 581.8 957.0 583.5C954.8 585.2 952.1 586.9 949.6 588.0C947.2 589.0 944.4 589.8 942.2 589.7C940.0 589.6 937.8 588.9 936.3 587.4C934.8 585.8 933.6 583.2 933.3 580.6C933.1 577.9 935.1 574.4 934.8 571.7C934.6 569.0 932.8 567.0 931.9 564.3C930.9 561.5 929.6 557.8 928.9 555.4C928.1 552.9 927.4 551.2 927.4 549.4C927.4 547.7 927.7 546.4 928.9 545.0Z" fill="#e4b950" filter="url(#blobtexY)"/>
<path d="M918.5 550.9C919.3 549.0 920.7 547.3 923.0 546.8C925.2 546.3 928.9 546.8 931.9 548.0C934.8 549.1 939.0 551.2 940.7 553.9C942.5 556.6 942.7 561.3 942.5 564.3C942.3 567.2 940.8 569.6 939.6 571.7C938.3 573.7 936.9 576.9 935.1 576.4C933.3 575.9 931.1 570.7 928.9 568.7C926.7 566.7 923.5 566.0 921.8 564.3C920.0 562.5 919.1 560.6 918.5 558.3C918.0 556.1 917.8 552.9 918.5 550.9Z" fill="#8c7e55" fill-opacity="0.9" filter="url(#blobtexB)"/>
<path d="M934.5 547.7C934.8 547.3 937.9 548.3 939.3 549.1C940.6 550.0 942.8 552.4 942.5 552.7C942.3 553.0 939.1 552.1 937.8 551.2C936.4 550.4 934.3 548.0 934.5 547.7Z" fill="#ffffff"/>
</g>
<g id="bottomright">
  <text class="pur" x="753" y="602.7" style="font-size:16.8px;font-weight:bold"><tspan style="font-weight:normal">α</tspan>Syn</text>
  <text x="739.6" y="646.5" style="font-size:16.2px;font-weight:bold;fill:#3a3a3a;stroke:#3a3a3a">Edc4</text>
  <text x="860" y="509.3" style="font-size:25.9px;font-weight:bold;fill:#8aa0ba;stroke:#8aa0ba">Dcp1</text>
  <path d="M873.1 590 V652" stroke="#111" stroke-width="1.4"/>
  <path d="M863.8 650 H882.4 L873.1 656 Z" fill="#111"/>
  <rect x="751.4" y="672.5" width="229" height="40" rx="10" fill="#8b66b3" stroke="#7a5aa6" stroke-width="0.6"/>
</g>
</svg>
</body>
</html>
